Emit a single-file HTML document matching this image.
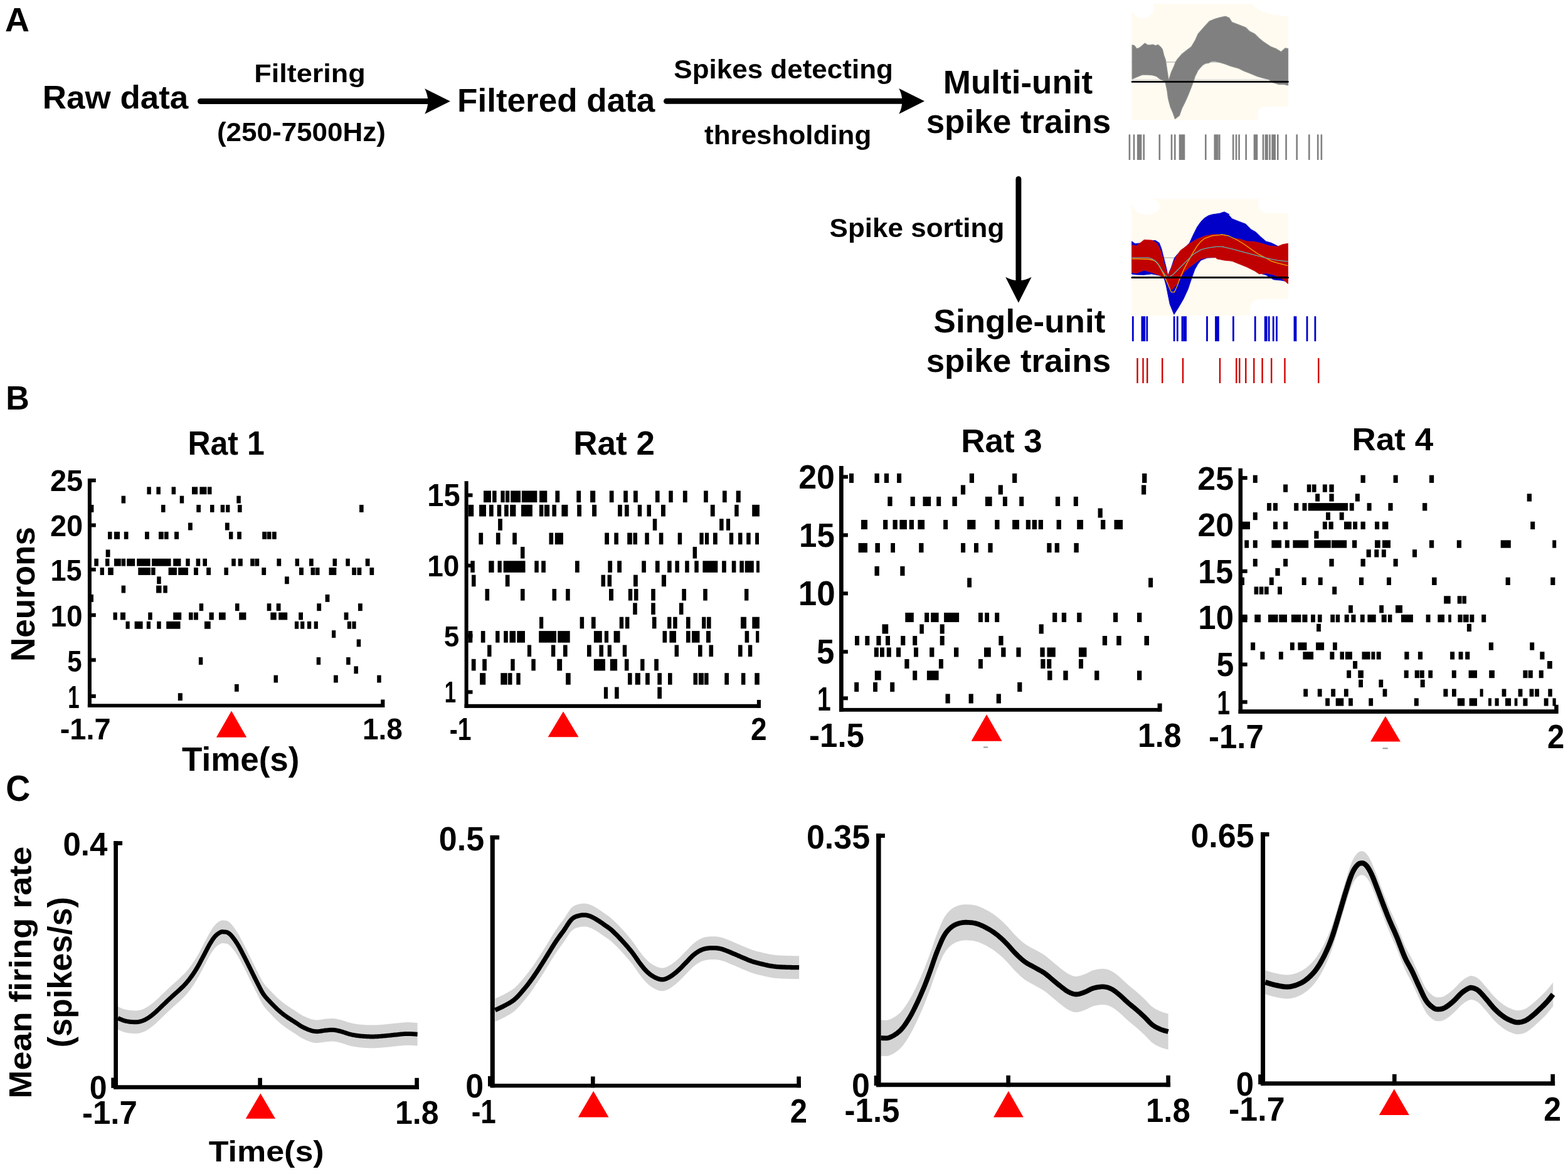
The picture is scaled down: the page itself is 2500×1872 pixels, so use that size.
<!DOCTYPE html>
<html><head><meta charset="utf-8"><title>Figure</title>
<style>html,body{margin:0;padding:0;background:#fff;width:2500px;height:1872px;overflow:hidden}text{font-family:'Liberation Sans',Arial,sans-serif;font-weight:bold}</style>
</head><body><svg xmlns="http://www.w3.org/2000/svg" width="2500" height="1872" viewBox="0 0 2500 1872" style="display:block;font-family:'Liberation Sans',Arial,sans-serif;font-weight:bold"><rect width="2500" height="1872" fill="#fff"/><line x1="319.5" y1="161.5" x2="682.3" y2="161.5" stroke="#000" stroke-width="8.9" stroke-linecap="round"/><path d="M677.2 141.15 L717.9 161.5 L677.2 181.85 Q687.4 161.5 677.2 141.15Z" fill="#000"/><line x1="1062.5" y1="161.3" x2="1438.4" y2="161.3" stroke="#000" stroke-width="8.9" stroke-linecap="round"/><path d="M1433.3 140.95 L1474 161.3 L1433.3 181.65 Q1443.5 161.3 1433.3 140.95Z" fill="#000"/><line x1="1623.9" y1="285.5" x2="1623.9" y2="447.2" stroke="#000" stroke-width="8.9" stroke-linecap="round"/><path d="M1603.15 441.7 L1623.9 482.7 L1644.65 441.7 Q1623.9 452.7 1603.15 441.7Z" fill="#000"/><rect x="1804.5" y="6.2" width="249.5" height="185.3" fill="#FFFBF0"/><ellipse cx="1822" cy="12" rx="18" ry="17" fill="#fff"/><rect x="1804.5" y="6.2" width="17.5" height="13.8" fill="#fff"/><path d="M1996 6.2 H2054 V25.8 Q2025 24 2010 17 Q2000 12 1996 6.2Z" fill="#fff"/><path d="M2054 191.5 H2005 V185 Q2005 170 2020 170 H2054Z" fill="#fff"/><line x1="1804.5" y1="99" x2="2054" y2="99" stroke="#a0a0a0" stroke-width="1"/><line x1="1804.5" y1="127" x2="2054" y2="127" stroke="#c8c8c8" stroke-width="1"/><polygon points="1805.1,71.8 1808.5,72.7 1812.7,77.8 1816.9,76.1 1821.1,72.7 1825.4,68.9 1829.6,71.8 1833.8,71.8 1838,71 1842.3,72.7 1846.5,71.4 1850.7,75.2 1853.3,78.6 1855.8,88.7 1858.3,95.5 1863,126.8 1863.6,127.6 1867.6,114.9 1871.9,105.6 1874.4,98.9 1877.8,93.8 1884.5,86.2 1893,79.4 1899.7,74.4 1905.7,64.2 1910.4,53.8 1920,43 1928.5,33.7 1936.9,30.3 1945.4,27.8 1953.8,26.1 1959.7,28.6 1964,35.4 1975,39.6 1985.9,43.8 1991.9,49.7 2000.3,54 2007.1,60.7 2013,65.8 2025.7,74.2 2034.1,77.6 2042.6,82.7 2049.3,76.8 2053.6,77.6 2053.6,136 2046.8,134.3 2038.3,134.3 2029.9,131.7 2023.1,126.7 2013,124.1 2004.5,121.6 1991.9,116.5 1983.4,113.1 1974.9,108.9 1962.3,105.5 1953.8,102.1 1945.4,99.6 1936.9,97.5 1931,98 1926.8,100.6 1922.6,100.9 1918.3,103.1 1914.1,107.3 1909.9,112.4 1905.7,120.9 1901.4,133.5 1897.2,144.5 1893,154.7 1888.8,164 1884.5,172.4 1880.3,184.3 1873.5,189.5 1870.2,180 1865.9,169.9 1862.6,157.2 1860.9,144.5 1859.2,136.1 1857.5,129.3 1850.7,126.8 1844,121.7 1838,120 1829.6,119.2 1821.1,119.2 1812.7,122.6 1805.1,125.9" fill="#808080" stroke="#8c8c8c" stroke-width="1.2" stroke-linejoin="round"/><line x1="1805" y1="130.4" x2="2053.5" y2="130.4" stroke="#000" stroke-width="2.6" stroke-linecap="round"/><rect x="1799.6" y="214.4" width="2.6" height="40.6" fill="#808080"/><rect x="1806.7" y="214.4" width="2.6" height="40.6" fill="#808080"/><rect x="1812.9" y="214.4" width="7.5" height="40.6" fill="#808080"/><rect x="1822.4" y="214.4" width="2.6" height="40.6" fill="#808080"/><rect x="1847.5" y="214.4" width="2.6" height="40.6" fill="#808080"/><rect x="1866.7" y="214.4" width="2.6" height="40.6" fill="#808080"/><rect x="1872" y="214.4" width="2.6" height="40.6" fill="#808080"/><rect x="1879.7" y="214.4" width="9.6" height="40.6" fill="#808080"/><rect x="1921" y="214.4" width="2.6" height="40.6" fill="#808080"/><rect x="1935.5" y="214.4" width="7.2" height="40.6" fill="#808080"/><rect x="1943" y="214.4" width="2.6" height="40.6" fill="#808080"/><rect x="1964.9" y="214.4" width="2.6" height="40.6" fill="#808080"/><rect x="1969.7" y="214.4" width="2.6" height="40.6" fill="#808080"/><rect x="1974.3" y="214.4" width="2.6" height="40.6" fill="#808080"/><rect x="1985.4" y="214.4" width="2.6" height="40.6" fill="#808080"/><rect x="1998.7" y="214.4" width="6.6" height="40.6" fill="#808080"/><rect x="2012.7" y="214.4" width="2.6" height="40.6" fill="#808080"/><rect x="2016.7" y="214.4" width="5.1" height="40.6" fill="#808080"/><rect x="2023.2" y="214.4" width="2.6" height="40.6" fill="#808080"/><rect x="2027.3" y="214.4" width="6.7" height="40.6" fill="#808080"/><rect x="2036" y="214.4" width="2.6" height="40.6" fill="#808080"/><rect x="2049.3" y="214.4" width="2.6" height="40.6" fill="#808080"/><rect x="2066.4" y="214.4" width="2.6" height="40.6" fill="#808080"/><rect x="2086" y="214.4" width="2.6" height="40.6" fill="#808080"/><rect x="2099.9" y="214.4" width="2.6" height="40.6" fill="#808080"/><rect x="2105.6" y="214.4" width="2.6" height="40.6" fill="#808080"/><rect x="1804.3" y="317.2" width="249.7" height="186.1" fill="#FFFBF0"/><ellipse cx="1828" cy="329" rx="21" ry="13.5" fill="#fff"/><rect x="1804.3" y="317.2" width="23.7" height="11.8" fill="#fff"/><path d="M2006.4 317.2 H2054 V340 H2025 Q2006.4 340 2006.4 325Z" fill="#fff"/><path d="M2054 503.3 H1993 V495 Q1993 476.7 2012 476.7 H2054Z" fill="#fff"/><line x1="1804.3" y1="411" x2="2054" y2="411" stroke="#a0a0a0" stroke-width="1"/><polygon points="1804.59,384.88 1809.66,388.5 1824.15,387.29 1836.23,383.67 1842.27,383.43 1848.31,387.29 1851.93,396.96 1856.76,416.28 1860.39,430.77 1861.84,439.83 1867.63,425.94 1872.46,411.45 1877.29,405.41 1884.54,398.16 1891.79,392.13 1896.62,387.29 1902.66,374.01 1908.7,361.93 1914.73,353.48 1920.77,347.44 1926.81,343.82 1932.85,342 1944.93,340.19 1950.97,338.02 1960.02,342 1952.08,337.78 1958.12,341.4 1964.15,348.65 1976.23,353.48 1985.89,357.1 1994.35,365.56 2002.8,370.39 2010.05,377.63 2018.5,384.88 2026.96,387.29 2036.62,392.13 2045.07,395.75 2053.53,396.96 2053.53,448.89 2042.66,447.08 2030.58,445.87 2018.5,438.62 2006.43,435 2000,429 1988,423 1976,418 1964,414 1952,412 1940,410 1925,411 1914.7,415 1909.9,421.11 1905.07,429.57 1900.24,442.85 1894.2,460.97 1886.96,476.67 1878.5,491.16 1871.86,501.43 1865.22,485.12 1859.18,454.93 1855.56,441.64 1848.31,439.23 1836.23,436.81 1824.15,438.26 1812.08,438.02 1804.59,437.05" fill="#0000C8" stroke="#1010d0" stroke-width="1" stroke-linejoin="round"/><polygon points="1804.59,390.92 1812.08,392.13 1824.15,382.46 1836.23,383.07 1843.48,387.29 1848.31,394.54 1851.93,404.2 1855.56,418.7 1859.18,430.77 1862.2,439.83 1868.84,424.73 1874.88,410.24 1882.13,399.37 1890.58,393.33 1896.62,388.5 1908.7,381.26 1920.77,376.43 1932.85,374.01 1944.93,374.01 1960.02,375.82 1952.08,376.43 1964.15,380.05 1976.23,381.26 1988.31,384.88 2000.39,385.48 2012.46,388.5 2024.54,392.13 2036.62,393.33 2045.07,389.71 2053.53,388.26 2053.53,452.51 2042.66,442.85 2030.58,438.02 2018.5,435.6 2007.63,436.81 2000.39,431.98 1988.31,425.94 1976.23,421.11 1964.15,416.28 1952.08,415.07 1940,412.66 1938.89,410.24 1926.81,410.24 1914.73,412.66 1906.28,418.7 1896.62,425.94 1888.16,433.19 1882.13,442.85 1874.88,454.93 1867.63,462.42 1860.39,450.1 1856.76,441.64 1853.14,440.43 1845.89,438.02 1836.23,434.4 1824.15,430.77 1812.08,435.6 1804.59,434.4" fill="#C00000" stroke="#c81010" stroke-width="1" stroke-linejoin="round"/><polyline points="1804.59,412.66 1830.19,413.26 1839.86,415.07 1845.89,419.9 1850.72,428.36 1855.56,438.02 1860.39,448.89 1865.22,460.97 1867.63,465.8 1872.46,465.8 1877.29,454.93 1882.13,441.64 1886.96,430.77 1891.79,421.11 1896.62,412.66 1902.66,401.79 1908.7,392.13 1914.73,384.88 1920.77,380.05 1932.85,375.82 1944.93,374.61 1948.45,374.01 1958.12,375.82 1970.19,381.26 1982.27,388.5 1994.35,396.96 2006.43,405.41 2018.5,411.45 2026.96,416.28 2036.62,419.3 2053.53,423.53" fill="none" stroke="#F0A800" stroke-width="1.3"/><polyline points="1804.59,410.85 1830.19,410.85 1836.23,412.66 1842.27,416.28 1848.31,423.53 1853.14,431.98 1857.97,439.23 1861.59,441.64 1865.22,441.04 1870.05,438.02 1876.09,431.98 1884.54,423.53 1894.2,413.86 1902.66,405.41 1914.73,398.16 1926.81,395.14 1938.89,393.33 1950.97,393.33 1948.45,393.33 1964.15,396.96 1982.27,401.79 2000.39,406.62 2018.5,411.45 2036.62,415.07 2053.53,416.88" fill="none" stroke="#60B0B0" stroke-width="1.3"/><line x1="1805" y1="442.5" x2="2053.5" y2="442.5" stroke="#000" stroke-width="3" stroke-linecap="round"/><rect x="1804.9" y="504.3" width="2.8" height="39.9" fill="#0000D0"/><rect x="1819.5" y="504.3" width="6.7" height="39.9" fill="#0000D0"/><rect x="1827.4" y="504.3" width="2.8" height="39.9" fill="#0000D0"/><rect x="1870.7" y="504.3" width="2.8" height="39.9" fill="#0000D0"/><rect x="1875.9" y="504.3" width="2.8" height="39.9" fill="#0000D0"/><rect x="1883.6" y="504.3" width="2.8" height="39.9" fill="#0000D0"/><rect x="1886.2" y="504.3" width="5.8" height="39.9" fill="#0000D0"/><rect x="1923.1" y="504.3" width="2.8" height="39.9" fill="#0000D0"/><rect x="1937.1" y="504.3" width="6.7" height="39.9" fill="#0000D0"/><rect x="1965" y="504.3" width="2.8" height="39.9" fill="#0000D0"/><rect x="1999.8" y="504.3" width="2.8" height="39.9" fill="#0000D0"/><rect x="2015.8" y="504.3" width="4.8" height="39.9" fill="#0000D0"/><rect x="2021.8" y="504.3" width="2.8" height="39.9" fill="#0000D0"/><rect x="2028.8" y="504.3" width="2.8" height="39.9" fill="#0000D0"/><rect x="2034.1" y="504.3" width="2.8" height="39.9" fill="#0000D0"/><rect x="2062.6" y="504.3" width="4.8" height="39.9" fill="#0000D0"/><rect x="2082.6" y="504.3" width="2.8" height="39.9" fill="#0000D0"/><rect x="2095.5" y="504.3" width="2.8" height="39.9" fill="#0000D0"/><rect x="1812.3" y="571" width="2.4" height="40" fill="#D00000"/><rect x="1821.3" y="571" width="2.4" height="40" fill="#D00000"/><rect x="1828" y="571" width="2.4" height="40" fill="#D00000"/><rect x="1852" y="571" width="2.4" height="40" fill="#D00000"/><rect x="1884.8" y="571" width="2.4" height="40" fill="#D00000"/><rect x="1943.8" y="571" width="2.4" height="40" fill="#D00000"/><rect x="1970.1" y="571" width="2.4" height="40" fill="#D00000"/><rect x="1975.1" y="571" width="2.4" height="40" fill="#D00000"/><rect x="1985.1" y="571" width="2.4" height="40" fill="#D00000"/><rect x="1998.1" y="571" width="2.4" height="40" fill="#D00000"/><rect x="2011.4" y="571" width="2.4" height="40" fill="#D00000"/><rect x="2026" y="571" width="2.4" height="40" fill="#D00000"/><rect x="2047.3" y="571" width="2.4" height="40" fill="#D00000"/><rect x="2101.1" y="571" width="2.4" height="40" fill="#D00000"/><rect x="234.4" y="776.35" width="6.4" height="11.9" fill="#000"/><rect x="249.4" y="776.35" width="6.5" height="11.9" fill="#000"/><rect x="273.6" y="776.35" width="6.5" height="11.9" fill="#000"/><rect x="306" y="776.35" width="9.1" height="11.9" fill="#000"/><rect x="318.4" y="776.35" width="11.1" height="11.9" fill="#000"/><rect x="331" y="776.35" width="6.5" height="11.9" fill="#000"/><rect x="193.6" y="790.65" width="6.5" height="11.9" fill="#000"/><rect x="286.7" y="790.65" width="6.5" height="11.9" fill="#000"/><rect x="377.3" y="790.65" width="6.5" height="11.9" fill="#000"/><rect x="143" y="804.95" width="6.4" height="11.9" fill="#000"/><rect x="257" y="804.95" width="6.5" height="11.9" fill="#000"/><rect x="313.3" y="804.95" width="6.7" height="11.9" fill="#000"/><rect x="335" y="804.95" width="6.5" height="11.9" fill="#000"/><rect x="351.7" y="804.95" width="6.5" height="11.9" fill="#000"/><rect x="360.1" y="804.95" width="6.3" height="11.9" fill="#000"/><rect x="379" y="804.95" width="6.6" height="11.9" fill="#000"/><rect x="573" y="804.95" width="6.6" height="11.9" fill="#000"/><rect x="300" y="833.55" width="6.8" height="11.9" fill="#000"/><rect x="358.9" y="833.55" width="6.8" height="11.9" fill="#000"/><rect x="172" y="847.85" width="6.5" height="11.9" fill="#000"/><rect x="182" y="847.85" width="9" height="11.9" fill="#000"/><rect x="197.8" y="847.85" width="6.7" height="11.9" fill="#000"/><rect x="231" y="847.85" width="6.8" height="11.9" fill="#000"/><rect x="253" y="847.85" width="7.8" height="11.9" fill="#000"/><rect x="262" y="847.85" width="6.6" height="11.9" fill="#000"/><rect x="278.1" y="847.85" width="6.9" height="11.9" fill="#000"/><rect x="365" y="847.85" width="6.4" height="11.9" fill="#000"/><rect x="378.2" y="847.85" width="6.7" height="11.9" fill="#000"/><rect x="418.2" y="847.85" width="6.8" height="11.9" fill="#000"/><rect x="425.7" y="847.85" width="6.8" height="11.9" fill="#000"/><rect x="434" y="847.85" width="6.7" height="11.9" fill="#000"/><rect x="168.7" y="876.45" width="6.8" height="11.9" fill="#000"/><rect x="150.3" y="890.75" width="6.6" height="11.9" fill="#000"/><rect x="168" y="890.75" width="6.4" height="11.9" fill="#000"/><rect x="182" y="890.75" width="10.8" height="11.9" fill="#000"/><rect x="193.6" y="890.75" width="6.5" height="11.9" fill="#000"/><rect x="202.2" y="890.75" width="13" height="11.9" fill="#000"/><rect x="218.2" y="890.75" width="21.4" height="11.9" fill="#000"/><rect x="242" y="890.75" width="30.5" height="11.9" fill="#000"/><rect x="276.2" y="890.75" width="12.2" height="11.9" fill="#000"/><rect x="296.3" y="890.75" width="6.4" height="11.9" fill="#000"/><rect x="312.6" y="890.75" width="6.6" height="11.9" fill="#000"/><rect x="323.4" y="890.75" width="6.6" height="11.9" fill="#000"/><rect x="369.2" y="890.75" width="6.6" height="11.9" fill="#000"/><rect x="379.7" y="890.75" width="7.1" height="11.9" fill="#000"/><rect x="399.2" y="890.75" width="6.5" height="11.9" fill="#000"/><rect x="406.4" y="890.75" width="6.8" height="11.9" fill="#000"/><rect x="441.4" y="890.75" width="6.8" height="11.9" fill="#000"/><rect x="470.6" y="890.75" width="6.4" height="11.9" fill="#000"/><rect x="493" y="890.75" width="6.7" height="11.9" fill="#000"/><rect x="530.5" y="890.75" width="6.5" height="11.9" fill="#000"/><rect x="551.3" y="890.75" width="6.5" height="11.9" fill="#000"/><rect x="582.7" y="890.75" width="6.8" height="11.9" fill="#000"/><rect x="159.6" y="905.05" width="6.4" height="11.9" fill="#000"/><rect x="172.2" y="905.05" width="8.6" height="11.9" fill="#000"/><rect x="220.3" y="905.05" width="19.7" height="11.9" fill="#000"/><rect x="241.1" y="905.05" width="6.5" height="11.9" fill="#000"/><rect x="268.6" y="905.05" width="13.3" height="11.9" fill="#000"/><rect x="284.2" y="905.05" width="15.8" height="11.9" fill="#000"/><rect x="309" y="905.05" width="6.9" height="11.9" fill="#000"/><rect x="329.2" y="905.05" width="6.8" height="11.9" fill="#000"/><rect x="357.4" y="905.05" width="6.5" height="11.9" fill="#000"/><rect x="417.3" y="905.05" width="6.8" height="11.9" fill="#000"/><rect x="477" y="905.05" width="6.9" height="11.9" fill="#000"/><rect x="495.5" y="905.05" width="6.8" height="11.9" fill="#000"/><rect x="503" y="905.05" width="6.5" height="11.9" fill="#000"/><rect x="524.5" y="905.05" width="11.8" height="11.9" fill="#000"/><rect x="561.2" y="905.05" width="6.8" height="11.9" fill="#000"/><rect x="569.5" y="905.05" width="6.8" height="11.9" fill="#000"/><rect x="589.4" y="905.05" width="6.8" height="11.9" fill="#000"/><rect x="250.2" y="919.35" width="6.5" height="11.9" fill="#000"/><rect x="454" y="919.35" width="6.8" height="11.9" fill="#000"/><rect x="193.6" y="933.65" width="6.5" height="11.9" fill="#000"/><rect x="249.1" y="933.65" width="8.4" height="11.9" fill="#000"/><rect x="260.3" y="933.65" width="6.5" height="11.9" fill="#000"/><rect x="143" y="947.95" width="6" height="11.9" fill="#000"/><rect x="518.6" y="947.95" width="6.8" height="11.9" fill="#000"/><rect x="317.7" y="962.25" width="6.5" height="11.9" fill="#000"/><rect x="375" y="962.25" width="6.5" height="11.9" fill="#000"/><rect x="425.7" y="962.25" width="6.7" height="11.9" fill="#000"/><rect x="440.7" y="962.25" width="6.8" height="11.9" fill="#000"/><rect x="505.3" y="962.25" width="6.8" height="11.9" fill="#000"/><rect x="571" y="962.25" width="6.8" height="11.9" fill="#000"/><rect x="180.5" y="976.55" width="6.3" height="11.9" fill="#000"/><rect x="192" y="976.55" width="8" height="11.9" fill="#000"/><rect x="236.2" y="976.55" width="6.5" height="11.9" fill="#000"/><rect x="276.2" y="976.55" width="13" height="11.9" fill="#000"/><rect x="301" y="976.55" width="6.6" height="11.9" fill="#000"/><rect x="309" y="976.55" width="6.9" height="11.9" fill="#000"/><rect x="333.5" y="976.55" width="7.3" height="11.9" fill="#000"/><rect x="349" y="976.55" width="10.7" height="11.9" fill="#000"/><rect x="381.2" y="976.55" width="11.2" height="11.9" fill="#000"/><rect x="431.3" y="976.55" width="9.4" height="11.9" fill="#000"/><rect x="444.2" y="976.55" width="14" height="11.9" fill="#000"/><rect x="476.2" y="976.55" width="6.8" height="11.9" fill="#000"/><rect x="548.6" y="976.55" width="6.8" height="11.9" fill="#000"/><rect x="200.5" y="990.85" width="6.2" height="11.9" fill="#000"/><rect x="214.6" y="990.85" width="13" height="11.9" fill="#000"/><rect x="233.8" y="990.85" width="6.2" height="11.9" fill="#000"/><rect x="250.2" y="990.85" width="6.5" height="11.9" fill="#000"/><rect x="265.2" y="990.85" width="22.3" height="11.9" fill="#000"/><rect x="326" y="990.85" width="9.7" height="11.9" fill="#000"/><rect x="469.9" y="990.85" width="6.2" height="11.9" fill="#000"/><rect x="479.1" y="990.85" width="6.2" height="11.9" fill="#000"/><rect x="489.9" y="990.85" width="6.3" height="11.9" fill="#000"/><rect x="500.7" y="990.85" width="6.2" height="11.9" fill="#000"/><rect x="553.8" y="990.85" width="6.2" height="11.9" fill="#000"/><rect x="561.4" y="990.85" width="6.2" height="11.9" fill="#000"/><rect x="529" y="1005.15" width="6.2" height="11.9" fill="#000"/><rect x="568.7" y="1019.45" width="6.5" height="11.9" fill="#000"/><rect x="316.9" y="1048.05" width="6.4" height="11.9" fill="#000"/><rect x="504.7" y="1048.05" width="6.4" height="11.9" fill="#000"/><rect x="552.1" y="1048.05" width="6.5" height="11.9" fill="#000"/><rect x="564.4" y="1062.35" width="6.6" height="11.9" fill="#000"/><rect x="436.5" y="1076.65" width="6.5" height="11.9" fill="#000"/><rect x="532" y="1076.65" width="6.8" height="11.9" fill="#000"/><rect x="601.2" y="1076.65" width="6.5" height="11.9" fill="#000"/><rect x="374" y="1090.95" width="6.7" height="11.9" fill="#000"/><rect x="283.8" y="1105.25" width="7.1" height="11.9" fill="#000"/><rect x="771" y="782.5" width="11.9" height="18.6" fill="#000"/><rect x="785.1" y="782.5" width="6.5" height="18.6" fill="#000"/><rect x="798.4" y="782.5" width="6.3" height="18.6" fill="#000"/><rect x="806" y="782.5" width="6.3" height="18.6" fill="#000"/><rect x="814.2" y="782.5" width="15.8" height="18.6" fill="#000"/><rect x="831.8" y="782.5" width="24.5" height="18.6" fill="#000"/><rect x="860.1" y="782.5" width="12.2" height="18.6" fill="#000"/><rect x="885.4" y="782.5" width="6.8" height="18.6" fill="#000"/><rect x="919.3" y="782.5" width="6.8" height="18.6" fill="#000"/><rect x="941.1" y="782.5" width="8.1" height="18.6" fill="#000"/><rect x="971.8" y="782.5" width="6.7" height="18.6" fill="#000"/><rect x="994.2" y="782.5" width="6.7" height="18.6" fill="#000"/><rect x="1010" y="782.5" width="6.8" height="18.6" fill="#000"/><rect x="1044.9" y="782.5" width="6.7" height="18.6" fill="#000"/><rect x="1066.3" y="782.5" width="6.5" height="18.6" fill="#000"/><rect x="1088.9" y="782.5" width="6.8" height="18.6" fill="#000"/><rect x="1122.1" y="782.5" width="6.7" height="18.6" fill="#000"/><rect x="1152" y="782.5" width="6.7" height="18.6" fill="#000"/><rect x="1173.7" y="782.5" width="7.1" height="18.6" fill="#000"/><rect x="746.7" y="804.86" width="8.5" height="18.6" fill="#000"/><rect x="764.1" y="804.86" width="10.9" height="18.6" fill="#000"/><rect x="780" y="804.86" width="6.7" height="18.6" fill="#000"/><rect x="792.7" y="804.86" width="6.5" height="18.6" fill="#000"/><rect x="804.1" y="804.86" width="6.6" height="18.6" fill="#000"/><rect x="813.2" y="804.86" width="9.2" height="18.6" fill="#000"/><rect x="831" y="804.86" width="17.9" height="18.6" fill="#000"/><rect x="859.9" y="804.86" width="6.5" height="18.6" fill="#000"/><rect x="868" y="804.86" width="8.1" height="18.6" fill="#000"/><rect x="880.4" y="804.86" width="6.6" height="18.6" fill="#000"/><rect x="895.4" y="804.86" width="10" height="18.6" fill="#000"/><rect x="920.2" y="804.86" width="6.8" height="18.6" fill="#000"/><rect x="944.1" y="804.86" width="7" height="18.6" fill="#000"/><rect x="985.1" y="804.86" width="6.7" height="18.6" fill="#000"/><rect x="996" y="804.86" width="6.7" height="18.6" fill="#000"/><rect x="1016.8" y="804.86" width="6.4" height="18.6" fill="#000"/><rect x="1031.5" y="804.86" width="6.5" height="18.6" fill="#000"/><rect x="1054" y="804.86" width="6.9" height="18.6" fill="#000"/><rect x="1132.8" y="804.86" width="6.9" height="18.6" fill="#000"/><rect x="1171.2" y="804.86" width="6.5" height="18.6" fill="#000"/><rect x="1199.2" y="804.86" width="11.7" height="18.6" fill="#000"/><rect x="794.1" y="827.22" width="6.8" height="18.6" fill="#000"/><rect x="1040.8" y="827.22" width="6.5" height="18.6" fill="#000"/><rect x="1147.1" y="827.22" width="6.5" height="18.6" fill="#000"/><rect x="1158" y="827.22" width="6.1" height="18.6" fill="#000"/><rect x="763.4" y="849.58" width="6.7" height="18.6" fill="#000"/><rect x="790.9" y="849.58" width="6.7" height="18.6" fill="#000"/><rect x="817.2" y="849.58" width="6.7" height="18.6" fill="#000"/><rect x="875.5" y="849.58" width="6.6" height="18.6" fill="#000"/><rect x="884.8" y="849.58" width="13.1" height="18.6" fill="#000"/><rect x="964.2" y="849.58" width="6.8" height="18.6" fill="#000"/><rect x="979.3" y="849.58" width="6.6" height="18.6" fill="#000"/><rect x="1000.2" y="849.58" width="7.6" height="18.6" fill="#000"/><rect x="1009.5" y="849.58" width="6.5" height="18.6" fill="#000"/><rect x="1028.3" y="849.58" width="6.5" height="18.6" fill="#000"/><rect x="1050.8" y="849.58" width="6.6" height="18.6" fill="#000"/><rect x="1080.7" y="849.58" width="6.5" height="18.6" fill="#000"/><rect x="1115.4" y="849.58" width="6.3" height="18.6" fill="#000"/><rect x="1123.9" y="849.58" width="6.3" height="18.6" fill="#000"/><rect x="1137" y="849.58" width="6.8" height="18.6" fill="#000"/><rect x="1162.8" y="849.58" width="6.4" height="18.6" fill="#000"/><rect x="1177" y="849.58" width="6.5" height="18.6" fill="#000"/><rect x="1190.2" y="849.58" width="6.5" height="18.6" fill="#000"/><rect x="1204.1" y="849.58" width="5.9" height="18.6" fill="#000"/><rect x="830" y="871.94" width="6.5" height="18.6" fill="#000"/><rect x="1104.6" y="871.94" width="6.5" height="18.6" fill="#000"/><rect x="750.3" y="894.3" width="6.5" height="18.6" fill="#000"/><rect x="779.3" y="894.3" width="8.3" height="18.6" fill="#000"/><rect x="793.5" y="894.3" width="6.3" height="18.6" fill="#000"/><rect x="802.7" y="894.3" width="34.8" height="18.6" fill="#000"/><rect x="852.3" y="894.3" width="6.5" height="18.6" fill="#000"/><rect x="863.2" y="894.3" width="6.7" height="18.6" fill="#000"/><rect x="917" y="894.3" width="6.7" height="18.6" fill="#000"/><rect x="969.3" y="894.3" width="6.8" height="18.6" fill="#000"/><rect x="984.2" y="894.3" width="6.8" height="18.6" fill="#000"/><rect x="1023.2" y="894.3" width="6.7" height="18.6" fill="#000"/><rect x="1044.9" y="894.3" width="6.7" height="18.6" fill="#000"/><rect x="1064.1" y="894.3" width="6.6" height="18.6" fill="#000"/><rect x="1076.4" y="894.3" width="6.5" height="18.6" fill="#000"/><rect x="1092.2" y="894.3" width="6.5" height="18.6" fill="#000"/><rect x="1107.3" y="894.3" width="6.5" height="18.6" fill="#000"/><rect x="1120.4" y="894.3" width="23.9" height="18.6" fill="#000"/><rect x="1151.1" y="894.3" width="6.7" height="18.6" fill="#000"/><rect x="1166.8" y="894.3" width="6.6" height="18.6" fill="#000"/><rect x="1179.3" y="894.3" width="6.6" height="18.6" fill="#000"/><rect x="1187.7" y="894.3" width="14.1" height="18.6" fill="#000"/><rect x="1206" y="894.3" width="4.9" height="18.6" fill="#000"/><rect x="752" y="916.66" width="6.5" height="18.6" fill="#000"/><rect x="805.8" y="916.66" width="6.7" height="18.6" fill="#000"/><rect x="958.5" y="916.66" width="6.5" height="18.6" fill="#000"/><rect x="968.6" y="916.66" width="6.5" height="18.6" fill="#000"/><rect x="1010" y="916.66" width="6.8" height="18.6" fill="#000"/><rect x="1054.9" y="916.66" width="7.1" height="18.6" fill="#000"/><rect x="773.5" y="939.02" width="6.6" height="18.6" fill="#000"/><rect x="830" y="939.02" width="6.6" height="18.6" fill="#000"/><rect x="880.5" y="939.02" width="6.6" height="18.6" fill="#000"/><rect x="902.1" y="939.02" width="6.6" height="18.6" fill="#000"/><rect x="971" y="939.02" width="7" height="18.6" fill="#000"/><rect x="1001.8" y="939.02" width="6.4" height="18.6" fill="#000"/><rect x="1011" y="939.02" width="6.5" height="18.6" fill="#000"/><rect x="1038.2" y="939.02" width="6.6" height="18.6" fill="#000"/><rect x="1087.3" y="939.02" width="6.7" height="18.6" fill="#000"/><rect x="1121.2" y="939.02" width="6.6" height="18.6" fill="#000"/><rect x="1187" y="939.02" width="6.4" height="18.6" fill="#000"/><rect x="1009.2" y="961.38" width="6.6" height="18.6" fill="#000"/><rect x="1038.2" y="961.38" width="6.6" height="18.6" fill="#000"/><rect x="1082.9" y="961.38" width="6.6" height="18.6" fill="#000"/><rect x="860" y="983.74" width="6.2" height="18.6" fill="#000"/><rect x="924.6" y="983.74" width="6.5" height="18.6" fill="#000"/><rect x="942.9" y="983.74" width="6.7" height="18.6" fill="#000"/><rect x="987.7" y="983.74" width="6.4" height="18.6" fill="#000"/><rect x="997" y="983.74" width="6.4" height="18.6" fill="#000"/><rect x="1039.9" y="983.74" width="6.6" height="18.6" fill="#000"/><rect x="1064.1" y="983.74" width="6.3" height="18.6" fill="#000"/><rect x="1073.2" y="983.74" width="6.5" height="18.6" fill="#000"/><rect x="1094" y="983.74" width="6.6" height="18.6" fill="#000"/><rect x="1119.1" y="983.74" width="6.3" height="18.6" fill="#000"/><rect x="1127" y="983.74" width="6.6" height="18.6" fill="#000"/><rect x="1181" y="983.74" width="9" height="18.6" fill="#000"/><rect x="1199.3" y="983.74" width="11.6" height="18.6" fill="#000"/><rect x="746.5" y="1006.1" width="6.8" height="18.6" fill="#000"/><rect x="766.8" y="1006.1" width="6.7" height="18.6" fill="#000"/><rect x="790.1" y="1006.1" width="6.4" height="18.6" fill="#000"/><rect x="803.2" y="1006.1" width="6.6" height="18.6" fill="#000"/><rect x="812.5" y="1006.1" width="9.6" height="18.6" fill="#000"/><rect x="824.3" y="1006.1" width="12.7" height="18.6" fill="#000"/><rect x="859.2" y="1006.1" width="27.8" height="18.6" fill="#000"/><rect x="889.2" y="1006.1" width="19.5" height="18.6" fill="#000"/><rect x="946.9" y="1006.1" width="12.9" height="18.6" fill="#000"/><rect x="963.8" y="1006.1" width="6.3" height="18.6" fill="#000"/><rect x="978.6" y="1006.1" width="9.9" height="18.6" fill="#000"/><rect x="1056.5" y="1006.1" width="6.7" height="18.6" fill="#000"/><rect x="1067.4" y="1006.1" width="10.6" height="18.6" fill="#000"/><rect x="1094" y="1006.1" width="6.6" height="18.6" fill="#000"/><rect x="1103" y="1006.1" width="12.5" height="18.6" fill="#000"/><rect x="1126" y="1006.1" width="6.9" height="18.6" fill="#000"/><rect x="1187.6" y="1006.1" width="6.6" height="18.6" fill="#000"/><rect x="1205.1" y="1006.1" width="5.2" height="18.6" fill="#000"/><rect x="777.1" y="1028.46" width="6.4" height="18.6" fill="#000"/><rect x="840.9" y="1028.46" width="6.2" height="18.6" fill="#000"/><rect x="878.9" y="1028.46" width="6.4" height="18.6" fill="#000"/><rect x="898" y="1028.46" width="6.6" height="18.6" fill="#000"/><rect x="936" y="1028.46" width="6.7" height="18.6" fill="#000"/><rect x="955.4" y="1028.46" width="6.6" height="18.6" fill="#000"/><rect x="968.7" y="1028.46" width="6.2" height="18.6" fill="#000"/><rect x="992.8" y="1028.46" width="6.4" height="18.6" fill="#000"/><rect x="1075.6" y="1028.46" width="6.5" height="18.6" fill="#000"/><rect x="1113" y="1028.46" width="6.6" height="18.6" fill="#000"/><rect x="1130.5" y="1028.46" width="6.6" height="18.6" fill="#000"/><rect x="1177" y="1028.46" width="6.6" height="18.6" fill="#000"/><rect x="1192.8" y="1028.46" width="6.5" height="18.6" fill="#000"/><rect x="751.8" y="1050.82" width="6.7" height="18.6" fill="#000"/><rect x="769.2" y="1050.82" width="6.7" height="18.6" fill="#000"/><rect x="814.3" y="1050.82" width="6.4" height="18.6" fill="#000"/><rect x="847.3" y="1050.82" width="6.5" height="18.6" fill="#000"/><rect x="888.2" y="1050.82" width="7.9" height="18.6" fill="#000"/><rect x="946.9" y="1050.82" width="18" height="18.6" fill="#000"/><rect x="972.8" y="1050.82" width="11.3" height="18.6" fill="#000"/><rect x="995.9" y="1050.82" width="6.6" height="18.6" fill="#000"/><rect x="1021.1" y="1050.82" width="6.4" height="18.6" fill="#000"/><rect x="1043.2" y="1050.82" width="6.7" height="18.6" fill="#000"/><rect x="765.1" y="1073.18" width="9.1" height="18.6" fill="#000"/><rect x="798.3" y="1073.18" width="10.5" height="18.6" fill="#000"/><rect x="810" y="1073.18" width="6.5" height="18.6" fill="#000"/><rect x="823.3" y="1073.18" width="6.4" height="18.6" fill="#000"/><rect x="902.1" y="1073.18" width="7.6" height="18.6" fill="#000"/><rect x="1001" y="1073.18" width="6.6" height="18.6" fill="#000"/><rect x="1012.7" y="1073.18" width="8.2" height="18.6" fill="#000"/><rect x="1029.1" y="1073.18" width="6.7" height="18.6" fill="#000"/><rect x="1048.3" y="1073.18" width="6.7" height="18.6" fill="#000"/><rect x="1065" y="1073.18" width="6.6" height="18.6" fill="#000"/><rect x="1105.5" y="1073.18" width="6.6" height="18.6" fill="#000"/><rect x="1113.9" y="1073.18" width="8.1" height="18.6" fill="#000"/><rect x="1123" y="1073.18" width="6.6" height="18.6" fill="#000"/><rect x="1155.3" y="1073.18" width="6.7" height="18.6" fill="#000"/><rect x="1181.9" y="1073.18" width="6.5" height="18.6" fill="#000"/><rect x="1203.3" y="1073.18" width="7.5" height="18.6" fill="#000"/><rect x="962.9" y="1095.54" width="6.2" height="18.6" fill="#000"/><rect x="980.1" y="1095.54" width="6.6" height="18.6" fill="#000"/><rect x="1048.3" y="1095.54" width="6.7" height="18.6" fill="#000"/><rect x="1354" y="754.95" width="7" height="15.1" fill="#000"/><rect x="1394.5" y="754.95" width="7.3" height="15.1" fill="#000"/><rect x="1409.9" y="754.95" width="7.2" height="15.1" fill="#000"/><rect x="1430.1" y="754.95" width="7" height="15.1" fill="#000"/><rect x="1545.8" y="754.95" width="7.2" height="15.1" fill="#000"/><rect x="1614.1" y="754.95" width="7.2" height="15.1" fill="#000"/><rect x="1821.1" y="754.95" width="7.3" height="15.1" fill="#000"/><rect x="1531.9" y="773.45" width="7.2" height="15.1" fill="#000"/><rect x="1591.7" y="773.45" width="7.2" height="15.1" fill="#000"/><rect x="1820" y="773.45" width="7.2" height="15.1" fill="#000"/><rect x="1415.3" y="791.95" width="7.3" height="15.1" fill="#000"/><rect x="1451.6" y="791.95" width="7.2" height="15.1" fill="#000"/><rect x="1471.5" y="791.95" width="12.7" height="15.1" fill="#000"/><rect x="1493.2" y="791.95" width="7" height="15.1" fill="#000"/><rect x="1518.4" y="791.95" width="7.4" height="15.1" fill="#000"/><rect x="1570.9" y="791.95" width="10.7" height="15.1" fill="#000"/><rect x="1598.9" y="791.95" width="7" height="15.1" fill="#000"/><rect x="1625.2" y="791.95" width="7" height="15.1" fill="#000"/><rect x="1682.9" y="791.95" width="7.2" height="15.1" fill="#000"/><rect x="1711.8" y="791.95" width="7" height="15.1" fill="#000"/><rect x="1750.6" y="810.45" width="7.2" height="15.1" fill="#000"/><rect x="1373" y="828.95" width="10" height="15.1" fill="#000"/><rect x="1408.1" y="828.95" width="7.2" height="15.1" fill="#000"/><rect x="1423.5" y="828.95" width="7.3" height="15.1" fill="#000"/><rect x="1434.4" y="828.95" width="11.5" height="15.1" fill="#000"/><rect x="1449.7" y="828.95" width="7.3" height="15.1" fill="#000"/><rect x="1463.4" y="828.95" width="10.7" height="15.1" fill="#000"/><rect x="1504.1" y="828.95" width="7" height="15.1" fill="#000"/><rect x="1542.2" y="828.95" width="13.2" height="15.1" fill="#000"/><rect x="1586.2" y="828.95" width="7.3" height="15.1" fill="#000"/><rect x="1614.1" y="828.95" width="10.9" height="15.1" fill="#000"/><rect x="1635.8" y="828.95" width="7.2" height="15.1" fill="#000"/><rect x="1645.7" y="828.95" width="7.3" height="15.1" fill="#000"/><rect x="1655.8" y="828.95" width="7.2" height="15.1" fill="#000"/><rect x="1684.6" y="828.95" width="7.3" height="15.1" fill="#000"/><rect x="1717.2" y="828.95" width="9.8" height="15.1" fill="#000"/><rect x="1755" y="828.95" width="7.3" height="15.1" fill="#000"/><rect x="1776.5" y="828.95" width="13.6" height="15.1" fill="#000"/><rect x="1368.6" y="865.95" width="14.4" height="15.1" fill="#000"/><rect x="1395.4" y="865.95" width="7.5" height="15.1" fill="#000"/><rect x="1420.2" y="865.95" width="6.8" height="15.1" fill="#000"/><rect x="1465.2" y="865.95" width="7.3" height="15.1" fill="#000"/><rect x="1532.1" y="865.95" width="7" height="15.1" fill="#000"/><rect x="1553" y="865.95" width="7" height="15.1" fill="#000"/><rect x="1575.4" y="865.95" width="7.2" height="15.1" fill="#000"/><rect x="1669.3" y="865.95" width="7.2" height="15.1" fill="#000"/><rect x="1681.7" y="865.95" width="7.3" height="15.1" fill="#000"/><rect x="1712.4" y="865.95" width="7.4" height="15.1" fill="#000"/><rect x="1394.5" y="902.95" width="7.3" height="15.1" fill="#000"/><rect x="1435.3" y="902.95" width="7.2" height="15.1" fill="#000"/><rect x="1542.2" y="921.45" width="6.8" height="15.1" fill="#000"/><rect x="1831.1" y="921.45" width="7" height="15.1" fill="#000"/><rect x="1443.3" y="976.95" width="13.5" height="15.1" fill="#000"/><rect x="1474.1" y="976.95" width="7.1" height="15.1" fill="#000"/><rect x="1484.2" y="976.95" width="12.4" height="15.1" fill="#000"/><rect x="1505.1" y="976.95" width="24" height="15.1" fill="#000"/><rect x="1560" y="976.95" width="6.9" height="15.1" fill="#000"/><rect x="1570.2" y="976.95" width="6.8" height="15.1" fill="#000"/><rect x="1586.2" y="976.95" width="7" height="15.1" fill="#000"/><rect x="1678.1" y="976.95" width="7.2" height="15.1" fill="#000"/><rect x="1692.8" y="976.95" width="7.3" height="15.1" fill="#000"/><rect x="1717.2" y="976.95" width="7.3" height="15.1" fill="#000"/><rect x="1775" y="976.95" width="7.2" height="15.1" fill="#000"/><rect x="1813" y="976.95" width="7.3" height="15.1" fill="#000"/><rect x="1406.5" y="995.45" width="9.7" height="15.1" fill="#000"/><rect x="1466.3" y="995.45" width="6.6" height="15.1" fill="#000"/><rect x="1498.7" y="995.45" width="7" height="15.1" fill="#000"/><rect x="1656.6" y="995.45" width="7.2" height="15.1" fill="#000"/><rect x="1363" y="1013.95" width="7" height="15.1" fill="#000"/><rect x="1379.3" y="1013.95" width="7" height="15.1" fill="#000"/><rect x="1397.4" y="1013.95" width="7.1" height="15.1" fill="#000"/><rect x="1412" y="1013.95" width="7" height="15.1" fill="#000"/><rect x="1436.2" y="1013.95" width="7.1" height="15.1" fill="#000"/><rect x="1455.2" y="1013.95" width="7" height="15.1" fill="#000"/><rect x="1498.7" y="1013.95" width="7" height="15.1" fill="#000"/><rect x="1592.3" y="1013.95" width="7.3" height="15.1" fill="#000"/><rect x="1757.8" y="1013.95" width="7.3" height="15.1" fill="#000"/><rect x="1780.2" y="1013.95" width="7.5" height="15.1" fill="#000"/><rect x="1824.5" y="1013.95" width="7.5" height="15.1" fill="#000"/><rect x="1393.8" y="1032.45" width="7" height="15.1" fill="#000"/><rect x="1403" y="1032.45" width="6.9" height="15.1" fill="#000"/><rect x="1413.8" y="1032.45" width="7" height="15.1" fill="#000"/><rect x="1429" y="1032.45" width="7.1" height="15.1" fill="#000"/><rect x="1457" y="1032.45" width="7" height="15.1" fill="#000"/><rect x="1482.1" y="1032.45" width="7.3" height="15.1" fill="#000"/><rect x="1521" y="1032.45" width="7.3" height="15.1" fill="#000"/><rect x="1569" y="1032.45" width="10.8" height="15.1" fill="#000"/><rect x="1596.2" y="1032.45" width="7.3" height="15.1" fill="#000"/><rect x="1620.4" y="1032.45" width="7.2" height="15.1" fill="#000"/><rect x="1658.4" y="1032.45" width="7.3" height="15.1" fill="#000"/><rect x="1669.5" y="1032.45" width="13.3" height="15.1" fill="#000"/><rect x="1720" y="1032.45" width="12.5" height="15.1" fill="#000"/><rect x="1442.3" y="1050.95" width="7.2" height="15.1" fill="#000"/><rect x="1496.9" y="1050.95" width="7" height="15.1" fill="#000"/><rect x="1560" y="1050.95" width="6.9" height="15.1" fill="#000"/><rect x="1659.3" y="1050.95" width="7.2" height="15.1" fill="#000"/><rect x="1669.3" y="1050.95" width="7" height="15.1" fill="#000"/><rect x="1720" y="1050.95" width="7" height="15.1" fill="#000"/><rect x="1394.8" y="1069.45" width="9.9" height="15.1" fill="#000"/><rect x="1455.2" y="1069.45" width="7" height="15.1" fill="#000"/><rect x="1477.9" y="1069.45" width="18.7" height="15.1" fill="#000"/><rect x="1670.1" y="1069.45" width="7.4" height="15.1" fill="#000"/><rect x="1695.3" y="1069.45" width="7.4" height="15.1" fill="#000"/><rect x="1745.1" y="1069.45" width="7.3" height="15.1" fill="#000"/><rect x="1813" y="1069.45" width="7.3" height="15.1" fill="#000"/><rect x="1362.2" y="1087.95" width="7" height="15.1" fill="#000"/><rect x="1392.1" y="1087.95" width="6.9" height="15.1" fill="#000"/><rect x="1419.2" y="1087.95" width="7" height="15.1" fill="#000"/><rect x="1622.2" y="1087.95" width="7.2" height="15.1" fill="#000"/><rect x="1507.5" y="1106.45" width="7.2" height="15.1" fill="#000"/><rect x="1544.6" y="1106.45" width="7.2" height="15.1" fill="#000"/><rect x="1588.7" y="1106.45" width="7.2" height="15.1" fill="#000"/><rect x="1997.8" y="757.65" width="7" height="12.3" fill="#000"/><rect x="2169.5" y="757.65" width="7.3" height="12.3" fill="#000"/><rect x="2221.6" y="757.65" width="7.1" height="12.3" fill="#000"/><rect x="2278.9" y="757.65" width="7.3" height="12.3" fill="#000"/><rect x="2046.1" y="772.47" width="7" height="12.3" fill="#000"/><rect x="2083.8" y="772.47" width="6.6" height="12.3" fill="#000"/><rect x="2092" y="772.47" width="6.6" height="12.3" fill="#000"/><rect x="2108.9" y="772.47" width="6.9" height="12.3" fill="#000"/><rect x="2119.4" y="772.47" width="7.3" height="12.3" fill="#000"/><rect x="2097.2" y="787.29" width="6.9" height="12.3" fill="#000"/><rect x="2119.4" y="787.29" width="7.3" height="12.3" fill="#000"/><rect x="2160.8" y="787.29" width="7.1" height="12.3" fill="#000"/><rect x="2434.7" y="787.29" width="7.3" height="12.3" fill="#000"/><rect x="2020.1" y="802.11" width="6.9" height="12.3" fill="#000"/><rect x="2030" y="802.11" width="7" height="12.3" fill="#000"/><rect x="2063.2" y="802.11" width="7.1" height="12.3" fill="#000"/><rect x="2076.5" y="802.11" width="7" height="12.3" fill="#000"/><rect x="2085.7" y="802.11" width="63.3" height="12.3" fill="#000"/><rect x="2151.8" y="802.11" width="6.9" height="12.3" fill="#000"/><rect x="2179.6" y="802.11" width="7" height="12.3" fill="#000"/><rect x="2213.4" y="802.11" width="7.2" height="12.3" fill="#000"/><rect x="2268" y="802.11" width="7.3" height="12.3" fill="#000"/><rect x="1997.8" y="816.93" width="7" height="12.3" fill="#000"/><rect x="2114.1" y="816.93" width="6.9" height="12.3" fill="#000"/><rect x="2135.7" y="816.93" width="7" height="12.3" fill="#000"/><rect x="1981" y="831.75" width="12" height="12.3" fill="#000"/><rect x="2030" y="831.75" width="7" height="12.3" fill="#000"/><rect x="2046.1" y="831.75" width="7" height="12.3" fill="#000"/><rect x="2108.9" y="831.75" width="6.9" height="12.3" fill="#000"/><rect x="2118.6" y="831.75" width="7.2" height="12.3" fill="#000"/><rect x="2143" y="831.75" width="11.8" height="12.3" fill="#000"/><rect x="2157.2" y="831.75" width="6.9" height="12.3" fill="#000"/><rect x="2169.5" y="831.75" width="7.3" height="12.3" fill="#000"/><rect x="2192" y="831.75" width="7.1" height="12.3" fill="#000"/><rect x="2204" y="831.75" width="9.4" height="12.3" fill="#000"/><rect x="2440.2" y="831.75" width="7" height="12.3" fill="#000"/><rect x="2095.3" y="846.57" width="7.2" height="12.3" fill="#000"/><rect x="1984.3" y="861.39" width="6.8" height="12.3" fill="#000"/><rect x="1997.8" y="861.39" width="7" height="12.3" fill="#000"/><rect x="2027.4" y="861.39" width="15.7" height="12.3" fill="#000"/><rect x="2048.8" y="861.39" width="7" height="12.3" fill="#000"/><rect x="2061.4" y="861.39" width="24.8" height="12.3" fill="#000"/><rect x="2095.3" y="861.39" width="26.5" height="12.3" fill="#000"/><rect x="2123" y="861.39" width="24.2" height="12.3" fill="#000"/><rect x="2156" y="861.39" width="7.3" height="12.3" fill="#000"/><rect x="2192" y="861.39" width="8.7" height="12.3" fill="#000"/><rect x="2204" y="861.39" width="13" height="12.3" fill="#000"/><rect x="2278.9" y="861.39" width="7.3" height="12.3" fill="#000"/><rect x="2322.8" y="861.39" width="7.2" height="12.3" fill="#000"/><rect x="2392.7" y="861.39" width="16.1" height="12.3" fill="#000"/><rect x="2475.2" y="861.39" width="6" height="12.3" fill="#000"/><rect x="2178.6" y="876.21" width="7.2" height="12.3" fill="#000"/><rect x="2191.3" y="876.21" width="7" height="12.3" fill="#000"/><rect x="2202.9" y="876.21" width="6.9" height="12.3" fill="#000"/><rect x="2252" y="876.21" width="7" height="12.3" fill="#000"/><rect x="1997.8" y="891.03" width="7" height="12.3" fill="#000"/><rect x="2046.1" y="891.03" width="7" height="12.3" fill="#000"/><rect x="2119.4" y="891.03" width="7.3" height="12.3" fill="#000"/><rect x="2169.5" y="891.03" width="7.3" height="12.3" fill="#000"/><rect x="2221.6" y="891.03" width="7.1" height="12.3" fill="#000"/><rect x="2033.4" y="905.85" width="7.3" height="12.3" fill="#000"/><rect x="1979" y="920.67" width="5" height="12.3" fill="#000"/><rect x="2023.8" y="920.67" width="7" height="12.3" fill="#000"/><rect x="2075.7" y="920.67" width="7" height="12.3" fill="#000"/><rect x="2101.7" y="920.67" width="7" height="12.3" fill="#000"/><rect x="2166.9" y="920.67" width="7.2" height="12.3" fill="#000"/><rect x="2211" y="920.67" width="7" height="12.3" fill="#000"/><rect x="2283.1" y="920.67" width="7.5" height="12.3" fill="#000"/><rect x="2400.6" y="920.67" width="7.2" height="12.3" fill="#000"/><rect x="2472.2" y="920.67" width="7.2" height="12.3" fill="#000"/><rect x="1999.6" y="935.49" width="6.7" height="12.3" fill="#000"/><rect x="2007.8" y="935.49" width="6.7" height="12.3" fill="#000"/><rect x="2016" y="935.49" width="6.7" height="12.3" fill="#000"/><rect x="2037.1" y="935.49" width="6.9" height="12.3" fill="#000"/><rect x="2124.2" y="935.49" width="7" height="12.3" fill="#000"/><rect x="2302.2" y="950.31" width="10.5" height="12.3" fill="#000"/><rect x="2323.7" y="950.31" width="6.8" height="12.3" fill="#000"/><rect x="2331.5" y="950.31" width="6.4" height="12.3" fill="#000"/><rect x="2150.1" y="965.13" width="6.8" height="12.3" fill="#000"/><rect x="2199.2" y="965.13" width="6.8" height="12.3" fill="#000"/><rect x="2225" y="965.13" width="11" height="12.3" fill="#000"/><rect x="1980.9" y="979.95" width="7.7" height="12.3" fill="#000"/><rect x="2000.3" y="979.95" width="9.7" height="12.3" fill="#000"/><rect x="2022" y="979.95" width="15.5" height="12.3" fill="#000"/><rect x="2039.3" y="979.95" width="12.7" height="12.3" fill="#000"/><rect x="2058.9" y="979.95" width="15.4" height="12.3" fill="#000"/><rect x="2076.4" y="979.95" width="8.1" height="12.3" fill="#000"/><rect x="2090.1" y="979.95" width="6.8" height="12.3" fill="#000"/><rect x="2101" y="979.95" width="6.6" height="12.3" fill="#000"/><rect x="2121.3" y="979.95" width="6.8" height="12.3" fill="#000"/><rect x="2129.7" y="979.95" width="6.5" height="12.3" fill="#000"/><rect x="2143.7" y="979.95" width="7" height="12.3" fill="#000"/><rect x="2154.4" y="979.95" width="7.1" height="12.3" fill="#000"/><rect x="2168.9" y="979.95" width="6.8" height="12.3" fill="#000"/><rect x="2180.4" y="979.95" width="13.3" height="12.3" fill="#000"/><rect x="2202.7" y="979.95" width="8" height="12.3" fill="#000"/><rect x="2212.9" y="979.95" width="6.5" height="12.3" fill="#000"/><rect x="2234" y="979.95" width="18.9" height="12.3" fill="#000"/><rect x="2273.6" y="979.95" width="6.9" height="12.3" fill="#000"/><rect x="2292.3" y="979.95" width="10.7" height="12.3" fill="#000"/><rect x="2309.2" y="979.95" width="4.7" height="12.3" fill="#000"/><rect x="2324.4" y="979.95" width="7.3" height="12.3" fill="#000"/><rect x="2333" y="979.95" width="8.6" height="12.3" fill="#000"/><rect x="2343.5" y="979.95" width="6.8" height="12.3" fill="#000"/><rect x="2362.2" y="979.95" width="7" height="12.3" fill="#000"/><rect x="2099.1" y="994.77" width="6.8" height="12.3" fill="#000"/><rect x="2338.9" y="994.77" width="7.1" height="12.3" fill="#000"/><rect x="1994.1" y="1024.41" width="7.1" height="12.3" fill="#000"/><rect x="2056.9" y="1024.41" width="6.9" height="12.3" fill="#000"/><rect x="2069.4" y="1024.41" width="14.1" height="12.3" fill="#000"/><rect x="2098.1" y="1024.41" width="13" height="12.3" fill="#000"/><rect x="2125" y="1024.41" width="6.8" height="12.3" fill="#000"/><rect x="2373.8" y="1024.41" width="7.2" height="12.3" fill="#000"/><rect x="2439.2" y="1024.41" width="7" height="12.3" fill="#000"/><rect x="2009.4" y="1039.23" width="7" height="12.3" fill="#000"/><rect x="2038.9" y="1039.23" width="6.9" height="12.3" fill="#000"/><rect x="2077.4" y="1039.23" width="16.7" height="12.3" fill="#000"/><rect x="2120.4" y="1039.23" width="7" height="12.3" fill="#000"/><rect x="2136.5" y="1039.23" width="6.5" height="12.3" fill="#000"/><rect x="2144.9" y="1039.23" width="11" height="12.3" fill="#000"/><rect x="2171.5" y="1039.23" width="13" height="12.3" fill="#000"/><rect x="2186.4" y="1039.23" width="6" height="12.3" fill="#000"/><rect x="2194.7" y="1039.23" width="7" height="12.3" fill="#000"/><rect x="2239.3" y="1039.23" width="7.2" height="12.3" fill="#000"/><rect x="2260.9" y="1039.23" width="7.2" height="12.3" fill="#000"/><rect x="2312.1" y="1039.23" width="7" height="12.3" fill="#000"/><rect x="2325.6" y="1039.23" width="6.9" height="12.3" fill="#000"/><rect x="2336.2" y="1039.23" width="7.1" height="12.3" fill="#000"/><rect x="2455.3" y="1039.23" width="7.2" height="12.3" fill="#000"/><rect x="2157.1" y="1054.05" width="7" height="12.3" fill="#000"/><rect x="2467" y="1054.05" width="7.8" height="12.3" fill="#000"/><rect x="2147.2" y="1068.87" width="6.9" height="12.3" fill="#000"/><rect x="2165.3" y="1068.87" width="8.6" height="12.3" fill="#000"/><rect x="2238.7" y="1068.87" width="7" height="12.3" fill="#000"/><rect x="2255.7" y="1068.87" width="7.1" height="12.3" fill="#000"/><rect x="2263.7" y="1068.87" width="7.1" height="12.3" fill="#000"/><rect x="2277.3" y="1068.87" width="6.8" height="12.3" fill="#000"/><rect x="2314.8" y="1068.87" width="7" height="12.3" fill="#000"/><rect x="2341.6" y="1068.87" width="13.4" height="12.3" fill="#000"/><rect x="2374.2" y="1068.87" width="8.7" height="12.3" fill="#000"/><rect x="2428.4" y="1068.87" width="7.1" height="12.3" fill="#000"/><rect x="2436.7" y="1068.87" width="7.1" height="12.3" fill="#000"/><rect x="2453.7" y="1068.87" width="7.1" height="12.3" fill="#000"/><rect x="2166.2" y="1083.69" width="6.8" height="12.3" fill="#000"/><rect x="2198.4" y="1083.69" width="6.8" height="12.3" fill="#000"/><rect x="2264.7" y="1083.69" width="7" height="12.3" fill="#000"/><rect x="2078.3" y="1098.51" width="6.8" height="12.3" fill="#000"/><rect x="2100.8" y="1098.51" width="6.8" height="12.3" fill="#000"/><rect x="2122.2" y="1098.51" width="6.9" height="12.3" fill="#000"/><rect x="2142.9" y="1098.51" width="6.8" height="12.3" fill="#000"/><rect x="2204.6" y="1098.51" width="6.8" height="12.3" fill="#000"/><rect x="2301.4" y="1098.51" width="7" height="12.3" fill="#000"/><rect x="2315" y="1098.51" width="6.8" height="12.3" fill="#000"/><rect x="2359.6" y="1098.51" width="5.1" height="12.3" fill="#000"/><rect x="2394.6" y="1098.51" width="6.8" height="12.3" fill="#000"/><rect x="2420.6" y="1098.51" width="6.8" height="12.3" fill="#000"/><rect x="2438.6" y="1098.51" width="6.8" height="12.3" fill="#000"/><rect x="2447.2" y="1098.51" width="6.8" height="12.3" fill="#000"/><rect x="2468.3" y="1098.51" width="6.5" height="12.3" fill="#000"/><rect x="2113.2" y="1113.33" width="6.8" height="12.3" fill="#000"/><rect x="2129.7" y="1113.33" width="12.6" height="12.3" fill="#000"/><rect x="2150.1" y="1113.33" width="6.8" height="12.3" fill="#000"/><rect x="2182.3" y="1113.33" width="6.8" height="12.3" fill="#000"/><rect x="2254.8" y="1113.33" width="7" height="12.3" fill="#000"/><rect x="2323.8" y="1113.33" width="11.4" height="12.3" fill="#000"/><rect x="2342.6" y="1113.33" width="12.4" height="12.3" fill="#000"/><rect x="2373" y="1113.33" width="4.9" height="12.3" fill="#000"/><rect x="2383.5" y="1113.33" width="6.2" height="12.3" fill="#000"/><rect x="2400" y="1113.33" width="9.1" height="12.3" fill="#000"/><rect x="2414.7" y="1113.33" width="4.7" height="12.3" fill="#000"/><rect x="2428.4" y="1113.33" width="7.1" height="12.3" fill="#000"/><rect x="2461.7" y="1113.33" width="6.9" height="12.3" fill="#000"/><rect x="2475.5" y="1113.33" width="5.2" height="12.3" fill="#000"/><rect x="139.9" y="763" width="6" height="365" fill="#000"/><rect x="139.9" y="1122.3" width="470.7" height="5.7" fill="#000"/><rect x="145.4" y="763" width="7.4" height="6" fill="#000"/><rect x="145.4" y="834.5" width="7.4" height="6" fill="#000"/><rect x="145.4" y="905.2" width="7.4" height="6" fill="#000"/><rect x="145.4" y="977.8" width="7.4" height="6" fill="#000"/><rect x="145.4" y="1049.4" width="7.4" height="6" fill="#000"/><rect x="145.4" y="1107.1" width="7.4" height="6" fill="#000"/><rect x="607.2" y="1115.5" width="6.2" height="12.5" fill="#000"/><rect x="740.6" y="767.2" width="6" height="361.7" fill="#000"/><rect x="740.6" y="1122.8" width="470.4" height="6.1" fill="#000"/><rect x="746.1" y="786.6" width="7.4" height="6" fill="#000"/><rect x="746.1" y="898.8" width="7.4" height="6" fill="#000"/><rect x="746.1" y="1010.8" width="7.4" height="6" fill="#000"/><rect x="746.1" y="1100.5" width="7.4" height="6" fill="#000"/><rect x="1206.9" y="1116" width="6.1" height="12.9" fill="#000"/><rect x="1338" y="743" width="6.7" height="391.8" fill="#000"/><rect x="1338" y="1128.9" width="512" height="5.9" fill="#000"/><rect x="1344.2" y="757.4" width="7.7" height="6" fill="#000"/><rect x="1344.2" y="850.3" width="7.7" height="6" fill="#000"/><rect x="1344.2" y="943.3" width="7.7" height="6" fill="#000"/><rect x="1344.2" y="1036.3" width="7.7" height="6" fill="#000"/><rect x="1344.2" y="1110.4" width="7.7" height="6" fill="#000"/><rect x="1845.6" y="1121.6" width="7" height="13.2" fill="#000"/><rect x="1974.6" y="746.8" width="6.5" height="391.2" fill="#000"/><rect x="1974.6" y="1131.2" width="507.4" height="6.8" fill="#000"/><rect x="1980.6" y="759.1" width="8.1" height="6" fill="#000"/><rect x="1980.6" y="834.4" width="8.1" height="6" fill="#000"/><rect x="1980.6" y="907.8" width="8.1" height="6" fill="#000"/><rect x="1980.6" y="981.8" width="8.1" height="6" fill="#000"/><rect x="1980.6" y="1056.5" width="8.1" height="6" fill="#000"/><rect x="1980.6" y="1116.4" width="8.1" height="6" fill="#000"/><rect x="2478.2" y="1123.8" width="6.5" height="14.2" fill="#000"/><polygon points="344.9,1175.8 369.05,1133.6 393.2,1175.8" fill="#FF0000"/><polygon points="873.6,1175.2 898.05,1134.5 922.5,1175.2" fill="#FF0000"/><polygon points="1548.6,1181.7 1573.05,1139.3 1597.5,1181.7" fill="#FF0000"/><polygon points="2185,1182.5 2208.95,1142 2232.9,1182.5" fill="#FF0000"/><polygon points="391.7,1783.8 415.35,1743.6 439,1783.8" fill="#FF0000"/><polygon points="921.8,1781.5 946.15,1739.7 970.5,1781.5" fill="#FF0000"/><polygon points="1584,1781.5 1607.9,1739.7 1631.8,1781.5" fill="#FF0000"/><polygon points="2198.8,1778 2222.8,1736.6 2246.8,1778" fill="#FF0000"/><rect x="1568" y="1190.5" width="7" height="2" fill="#999"/><rect x="2204.5" y="1192.3" width="8.2" height="2" fill="#999"/><polygon points="188,1605.1 189.25,1605.63 190.93,1606.4 192.95,1607.29 195.19,1608.2 197.54,1609.04 199.9,1609.7 201.53,1610.04 203.28,1610.36 205.13,1610.64 207.03,1610.89 208.93,1611.1 210.81,1611.27 212.63,1611.4 214.34,1611.47 215.9,1611.5 217.99,1611.44 219.88,1611.27 221.62,1611 223.26,1610.64 224.87,1610.2 226.5,1609.7 228.42,1609.01 230.25,1608.22 232.05,1607.32 233.88,1606.28 235.8,1605.1 237.46,1604.02 239.14,1602.86 240.85,1601.6 242.62,1600.23 244.46,1598.74 246.4,1597.1 248.16,1595.54 250,1593.84 251.91,1592.02 253.86,1590.14 255.82,1588.23 257.78,1586.34 259.7,1584.5 261.6,1582.69 263.5,1580.88 265.4,1579.07 267.3,1577.26 269.2,1575.46 271.1,1573.67 273,1571.9 274.92,1570.14 276.88,1568.39 278.84,1566.64 280.79,1564.91 282.7,1563.21 284.54,1561.54 286.3,1559.9 288.24,1558.07 290.08,1556.31 291.85,1554.6 293.56,1552.89 295.24,1551.13 296.9,1549.3 298.84,1547.03 300.71,1544.73 302.54,1542.35 304.36,1539.89 306.2,1537.3 308.04,1534.63 309.86,1531.9 311.69,1529.05 313.56,1526 315.5,1522.7 317.21,1519.66 318.99,1516.36 320.8,1512.92 322.61,1509.44 324.39,1506.03 326.1,1502.8 328.06,1499.08 329.98,1495.4 331.84,1491.86 333.64,1488.53 335.4,1485.5 337.08,1482.77 338.69,1480.29 340.26,1478.04 341.82,1476.02 343.4,1474.2 345.04,1472.59 346.73,1471.2 348.39,1470.03 349.97,1469.06 351.4,1468.3 352.88,1467.71 354.14,1467.5 355.35,1467.51 356.7,1467.6 358.26,1467.67 359.91,1467.83 361.61,1468.2 363.3,1468.9 364.91,1469.9 366.48,1471.15 368.14,1472.78 370,1474.9 371.69,1477.03 373.53,1479.5 375.46,1482.24 377.4,1485.17 379.3,1488.2 381.14,1491.34 382.96,1494.64 384.79,1498.11 386.66,1501.73 388.6,1505.5 390.29,1508.81 392.04,1512.27 393.82,1515.85 395.62,1519.48 397.42,1523.12 399.2,1526.7 400.97,1530.27 402.75,1533.88 404.52,1537.49 406.3,1541.07 408.06,1544.58 409.8,1548 411.5,1551.36 413.17,1554.71 414.82,1557.99 416.5,1561.16 418.21,1564.18 420,1567 421.88,1569.59 423.82,1571.97 425.81,1574.21 427.81,1576.34 429.82,1578.42 431.8,1580.5 433.75,1582.58 435.7,1584.61 437.65,1586.6 439.6,1588.53 441.55,1590.4 443.5,1592.2 445.43,1593.91 447.34,1595.54 449.25,1597.1 451.19,1598.63 453.2,1600.15 455.3,1601.7 456.94,1602.87 458.64,1604.04 460.37,1605.2 462.14,1606.36 463.93,1607.51 465.74,1608.67 467.57,1609.83 469.4,1611 471.23,1612.19 473.06,1613.42 474.91,1614.67 476.77,1615.91 478.67,1617.13 480.6,1618.29 482.57,1619.39 484.6,1620.4 486.46,1621.25 488.37,1622.09 490.32,1622.91 492.3,1623.68 494.3,1624.39 496.31,1625.03 498.33,1625.57 500.32,1626 502.3,1626.3 504.29,1626.44 506.33,1626.41 508.39,1626.26 510.45,1626.01 512.48,1625.7 514.47,1625.37 516.38,1625.05 518.2,1624.78 519.9,1624.6 522.2,1624.4 524.27,1624.21 526.17,1624.05 527.99,1623.94 529.81,1623.92 531.7,1624 533.59,1624.18 535.39,1624.44 537.19,1624.78 539.07,1625.2 541.11,1625.71 543.4,1626.3 545.1,1626.77 546.91,1627.33 548.83,1627.95 550.81,1628.61 552.85,1629.28 554.91,1629.94 556.97,1630.56 559.01,1631.12 561,1631.6 562.96,1632 564.93,1632.36 566.9,1632.68 568.87,1632.96 570.83,1633.22 572.8,1633.44 574.77,1633.64 576.74,1633.83 578.7,1634 580.66,1634.16 582.62,1634.29 584.57,1634.4 586.53,1634.49 588.48,1634.56 590.44,1634.6 592.39,1634.62 594.34,1634.62 596.3,1634.6 598.26,1634.55 600.21,1634.47 602.16,1634.36 604.12,1634.22 606.07,1634.07 608.03,1633.91 609.98,1633.74 611.94,1633.57 613.9,1633.4 615.86,1633.22 617.83,1633.03 619.8,1632.83 621.77,1632.62 623.73,1632.41 625.7,1632.2 627.67,1631.99 629.64,1631.79 631.6,1631.6 633.57,1631.41 635.54,1631.2 637.52,1630.99 639.49,1630.78 641.47,1630.59 643.43,1630.41 645.37,1630.27 647.3,1630.16 649.2,1630.1 651.16,1630.1 653.24,1630.16 655.36,1630.26 657.47,1630.38 659.5,1630.53 661.39,1630.68 663.08,1630.81 664.5,1630.93 665.6,1631 665.6,1667.6 664.5,1667.53 663.08,1667.41 661.39,1667.28 659.5,1667.13 657.47,1666.98 655.36,1666.86 653.24,1666.76 651.16,1666.7 649.2,1666.7 647.3,1666.76 645.37,1666.87 643.43,1667.01 641.47,1667.19 639.49,1667.38 637.52,1667.59 635.54,1667.8 633.57,1668.01 631.6,1668.2 629.64,1668.39 627.67,1668.59 625.7,1668.8 623.73,1669.01 621.77,1669.22 619.8,1669.43 617.83,1669.63 615.86,1669.82 613.9,1670 611.94,1670.17 609.98,1670.34 608.03,1670.51 606.07,1670.67 604.12,1670.82 602.16,1670.96 600.21,1671.07 598.26,1671.15 596.3,1671.2 594.34,1671.22 592.39,1671.22 590.44,1671.2 588.48,1671.16 586.53,1671.09 584.57,1671 582.62,1670.89 580.66,1670.76 578.7,1670.6 576.74,1670.43 574.77,1670.24 572.8,1670.04 570.83,1669.82 568.87,1669.56 566.9,1669.28 564.93,1668.96 562.96,1668.6 561,1668.2 559.01,1667.72 556.97,1667.16 554.91,1666.54 552.85,1665.88 550.81,1665.21 548.83,1664.55 546.91,1663.93 545.1,1663.37 543.4,1662.9 541.11,1662.31 539.07,1661.8 537.19,1661.38 535.39,1661.04 533.59,1660.78 531.7,1660.6 529.81,1660.52 527.99,1660.54 526.17,1660.65 524.27,1660.81 522.2,1661 519.9,1661.2 518.2,1661.38 516.38,1661.65 514.47,1661.97 512.48,1662.3 510.45,1662.61 508.39,1662.86 506.33,1663.01 504.29,1663.04 502.3,1662.9 500.32,1662.6 498.33,1662.17 496.31,1661.63 494.3,1660.99 492.3,1660.28 490.32,1659.51 488.37,1658.69 486.46,1657.85 484.6,1657 482.57,1655.99 480.6,1654.89 478.67,1653.73 476.77,1652.51 474.91,1651.27 473.06,1650.02 471.23,1648.79 469.4,1647.6 467.57,1646.43 465.74,1645.27 463.93,1644.11 462.14,1642.96 460.37,1641.8 458.64,1640.64 456.94,1639.47 455.3,1638.3 453.2,1636.75 451.19,1635.23 449.25,1633.7 447.34,1632.14 445.43,1630.51 443.5,1628.8 441.55,1627 439.6,1625.13 437.65,1623.2 435.7,1621.21 433.75,1619.18 431.8,1617.1 429.82,1615.02 427.81,1612.94 425.81,1610.81 423.82,1608.57 421.88,1606.19 420,1603.6 418.21,1600.78 416.5,1597.76 414.82,1594.59 413.17,1591.31 411.5,1587.96 409.8,1584.6 408.06,1581.18 406.3,1577.67 404.52,1574.09 402.75,1570.48 400.97,1566.87 399.2,1563.3 397.42,1559.72 395.62,1556.08 393.82,1552.45 392.04,1548.87 390.29,1545.41 388.6,1542.1 386.66,1538.33 384.79,1534.71 382.96,1531.24 381.14,1527.94 379.3,1524.8 377.4,1521.77 375.46,1518.84 373.53,1516.1 371.69,1513.63 370,1511.5 368.14,1509.38 366.48,1507.75 364.91,1506.5 363.3,1505.5 361.61,1504.8 359.91,1504.43 358.26,1504.27 356.7,1504.2 355.35,1504.11 354.14,1504.1 352.88,1504.31 351.4,1504.9 349.97,1505.66 348.39,1506.63 346.73,1507.8 345.04,1509.19 343.4,1510.8 341.82,1512.62 340.26,1514.64 338.69,1516.89 337.08,1519.37 335.4,1522.1 333.64,1525.13 331.84,1528.46 329.98,1532 328.06,1535.68 326.1,1539.4 324.39,1542.63 322.61,1546.04 320.8,1549.52 318.99,1552.96 317.21,1556.26 315.5,1559.3 313.56,1562.6 311.69,1565.65 309.86,1568.5 308.04,1571.23 306.2,1573.9 304.36,1576.49 302.54,1578.95 300.71,1581.33 298.84,1583.63 296.9,1585.9 295.24,1587.73 293.56,1589.49 291.85,1591.2 290.08,1592.91 288.24,1594.67 286.3,1596.5 284.54,1598.14 282.7,1599.81 280.79,1601.51 278.84,1603.24 276.88,1604.99 274.92,1606.74 273,1608.5 271.1,1610.27 269.2,1612.06 267.3,1613.86 265.4,1615.67 263.5,1617.48 261.6,1619.29 259.7,1621.1 257.78,1622.94 255.82,1624.83 253.86,1626.74 251.91,1628.62 250,1630.44 248.16,1632.14 246.4,1633.7 244.46,1635.34 242.62,1636.83 240.85,1638.2 239.14,1639.46 237.46,1640.62 235.8,1641.7 233.88,1642.88 232.05,1643.92 230.25,1644.82 228.42,1645.61 226.5,1646.3 224.87,1646.8 223.26,1647.24 221.62,1647.6 219.88,1647.87 217.99,1648.04 215.9,1648.1 214.34,1648.07 212.63,1648 210.81,1647.87 208.93,1647.7 207.03,1647.49 205.13,1647.24 203.28,1646.96 201.53,1646.64 199.9,1646.3 197.54,1645.64 195.19,1644.8 192.95,1643.89 190.93,1643 189.25,1642.23 188,1641.7" fill="#D4D4D4"/><polyline points="188,1623.4 189.25,1623.93 190.93,1624.7 192.95,1625.59 195.19,1626.5 197.54,1627.34 199.9,1628 201.53,1628.34 203.28,1628.66 205.13,1628.94 207.03,1629.19 208.93,1629.4 210.81,1629.57 212.63,1629.7 214.34,1629.77 215.9,1629.8 217.99,1629.74 219.88,1629.57 221.62,1629.3 223.26,1628.94 224.87,1628.5 226.5,1628 228.42,1627.31 230.25,1626.52 232.05,1625.62 233.88,1624.58 235.8,1623.4 237.46,1622.32 239.14,1621.16 240.85,1619.9 242.62,1618.53 244.46,1617.04 246.4,1615.4 248.16,1613.84 250,1612.14 251.91,1610.32 253.86,1608.44 255.82,1606.53 257.78,1604.64 259.7,1602.8 261.6,1600.99 263.5,1599.18 265.4,1597.37 267.3,1595.56 269.2,1593.76 271.1,1591.97 273,1590.2 274.92,1588.44 276.88,1586.69 278.84,1584.94 280.79,1583.21 282.7,1581.51 284.54,1579.84 286.3,1578.2 288.24,1576.37 290.08,1574.61 291.85,1572.9 293.56,1571.19 295.24,1569.43 296.9,1567.6 298.84,1565.33 300.71,1563.03 302.54,1560.65 304.36,1558.19 306.2,1555.6 308.04,1552.93 309.86,1550.2 311.69,1547.35 313.56,1544.3 315.5,1541 317.21,1537.96 318.99,1534.66 320.8,1531.22 322.61,1527.74 324.39,1524.33 326.1,1521.1 328.06,1517.38 329.98,1513.7 331.84,1510.16 333.64,1506.83 335.4,1503.8 337.08,1501.07 338.69,1498.59 340.26,1496.34 341.82,1494.32 343.4,1492.5 345.04,1490.89 346.73,1489.5 348.39,1488.33 349.97,1487.36 351.4,1486.6 352.88,1486.01 354.14,1485.8 355.35,1485.81 356.7,1485.9 358.26,1485.97 359.91,1486.13 361.61,1486.5 363.3,1487.2 364.91,1488.2 366.48,1489.45 368.14,1491.08 370,1493.2 371.69,1495.33 373.53,1497.8 375.46,1500.54 377.4,1503.47 379.3,1506.5 381.14,1509.64 382.96,1512.94 384.79,1516.41 386.66,1520.03 388.6,1523.8 390.29,1527.11 392.04,1530.57 393.82,1534.15 395.62,1537.78 397.42,1541.42 399.2,1545 400.97,1548.57 402.75,1552.18 404.52,1555.79 406.3,1559.37 408.06,1562.88 409.8,1566.3 411.5,1569.66 413.17,1573.01 414.82,1576.29 416.5,1579.46 418.21,1582.48 420,1585.3 421.88,1587.89 423.82,1590.27 425.81,1592.51 427.81,1594.64 429.82,1596.72 431.8,1598.8 433.75,1600.88 435.7,1602.91 437.65,1604.9 439.6,1606.83 441.55,1608.7 443.5,1610.5 445.43,1612.21 447.34,1613.84 449.25,1615.4 451.19,1616.93 453.2,1618.45 455.3,1620 456.94,1621.17 458.64,1622.34 460.37,1623.5 462.14,1624.66 463.93,1625.81 465.74,1626.97 467.57,1628.13 469.4,1629.3 471.23,1630.49 473.06,1631.72 474.91,1632.97 476.77,1634.21 478.67,1635.43 480.6,1636.59 482.57,1637.69 484.6,1638.7 486.46,1639.55 488.37,1640.39 490.32,1641.21 492.3,1641.98 494.3,1642.69 496.31,1643.33 498.33,1643.87 500.32,1644.3 502.3,1644.6 504.29,1644.74 506.33,1644.71 508.39,1644.56 510.45,1644.31 512.48,1644 514.47,1643.67 516.38,1643.35 518.2,1643.08 519.9,1642.9 522.2,1642.7 524.27,1642.51 526.17,1642.35 527.99,1642.24 529.81,1642.22 531.7,1642.3 533.59,1642.48 535.39,1642.74 537.19,1643.08 539.07,1643.5 541.11,1644.01 543.4,1644.6 545.1,1645.07 546.91,1645.63 548.83,1646.25 550.81,1646.91 552.85,1647.58 554.91,1648.24 556.97,1648.86 559.01,1649.42 561,1649.9 562.96,1650.3 564.93,1650.66 566.9,1650.98 568.87,1651.26 570.83,1651.52 572.8,1651.74 574.77,1651.94 576.74,1652.13 578.7,1652.3 580.66,1652.46 582.62,1652.59 584.57,1652.7 586.53,1652.79 588.48,1652.86 590.44,1652.9 592.39,1652.92 594.34,1652.92 596.3,1652.9 598.26,1652.85 600.21,1652.77 602.16,1652.66 604.12,1652.52 606.07,1652.37 608.03,1652.21 609.98,1652.04 611.94,1651.87 613.9,1651.7 615.86,1651.52 617.83,1651.33 619.8,1651.13 621.77,1650.92 623.73,1650.71 625.7,1650.5 627.67,1650.29 629.64,1650.09 631.6,1649.9 633.57,1649.71 635.54,1649.5 637.52,1649.29 639.49,1649.08 641.47,1648.89 643.43,1648.71 645.37,1648.57 647.3,1648.46 649.2,1648.4 651.16,1648.4 653.24,1648.46 655.36,1648.56 657.47,1648.68 659.5,1648.83 661.39,1648.98 663.08,1649.11 664.5,1649.23 665.6,1649.3" fill="none" stroke="#000" stroke-width="7" stroke-linejoin="round"/><polygon points="789.4,1592.3 790.51,1591.79 791.98,1591.14 793.72,1590.36 795.67,1589.49 797.74,1588.53 799.87,1587.52 801.98,1586.47 804,1585.4 805.76,1584.45 807.56,1583.48 809.41,1582.48 811.27,1581.44 813.15,1580.35 815.03,1579.19 816.88,1577.95 818.71,1576.63 820.5,1575.2 822.48,1573.44 824.45,1571.52 826.41,1569.47 828.34,1567.34 830.24,1565.16 832.11,1562.97 833.93,1560.81 835.7,1558.7 837.65,1556.36 839.51,1554.06 841.32,1551.76 843.09,1549.45 844.84,1547.1 846.61,1544.69 848.4,1542.2 850.21,1539.63 852.03,1536.99 853.84,1534.3 855.66,1531.57 857.47,1528.8 859.29,1526 861.1,1523.2 862.91,1520.37 864.73,1517.49 866.54,1514.59 868.36,1511.67 870.17,1508.74 871.99,1505.81 873.8,1502.9 875.61,1499.98 877.43,1497.02 879.24,1494.06 881.06,1491.12 882.87,1488.21 884.69,1485.36 886.5,1482.6 888.32,1479.94 890.13,1477.36 891.95,1474.84 893.76,1472.36 895.58,1469.89 897.39,1467.41 899.2,1464.9 901,1462.26 902.8,1459.47 904.6,1456.64 906.4,1453.89 908.2,1451.31 910,1449.01 911.8,1447.1 913.61,1445.6 915.42,1444.42 917.24,1443.51 919.05,1442.81 920.87,1442.26 922.68,1441.81 924.5,1441.4 926.31,1441.05 928.13,1440.82 929.94,1440.7 931.76,1440.7 933.57,1440.82 935.39,1441.05 937.2,1441.4 938.99,1441.88 940.76,1442.48 942.51,1443.21 944.28,1444.04 946.09,1444.98 947.95,1446 949.9,1447.1 951.71,1448.18 953.64,1449.39 955.64,1450.71 957.66,1452.08 959.66,1453.47 961.59,1454.83 963.42,1456.12 965.1,1457.3 967.03,1458.63 968.69,1459.74 970.2,1460.79 971.71,1461.9 973.37,1463.22 975.3,1464.9 976.95,1466.41 978.72,1468.08 980.58,1469.88 982.51,1471.79 984.49,1473.79 986.49,1475.85 988.5,1477.97 990.5,1480.1 992.3,1482.05 994.15,1484.09 996.04,1486.2 997.95,1488.35 999.86,1490.53 1001.73,1492.71 1003.56,1494.89 1005.33,1497.02 1007,1499.1 1009.03,1501.75 1010.98,1504.43 1012.83,1507.09 1014.62,1509.71 1016.36,1512.24 1018.04,1514.65 1019.7,1516.9 1021.54,1519.33 1023.27,1521.59 1024.94,1523.69 1026.58,1525.68 1028.25,1527.57 1030,1529.4 1031.8,1531.16 1033.61,1532.84 1035.44,1534.42 1037.33,1535.9 1039.27,1537.26 1041.3,1538.5 1043.13,1539.51 1045.05,1540.49 1047.03,1541.4 1049.03,1542.2 1051.03,1542.84 1053,1543.29 1054.9,1543.5 1056.72,1543.47 1058.5,1543.22 1060.24,1542.78 1061.96,1542.18 1063.7,1541.43 1065.48,1540.57 1067.3,1539.6 1069.19,1538.49 1071.13,1537.21 1073.11,1535.78 1075.09,1534.26 1077.07,1532.66 1079.01,1531.03 1080.9,1529.4 1082.72,1527.75 1084.5,1526.05 1086.24,1524.3 1087.96,1522.51 1089.7,1520.69 1091.48,1518.85 1093.3,1517 1095.18,1515.07 1097.1,1513.04 1099.05,1510.96 1101.02,1508.89 1102.99,1506.91 1104.95,1505.05 1106.9,1503.4 1108.83,1501.92 1110.76,1500.56 1112.69,1499.32 1114.61,1498.19 1116.54,1497.18 1118.47,1496.28 1120.4,1495.5 1122.33,1494.85 1124.25,1494.33 1126.16,1493.94 1128.09,1493.65 1130.03,1493.44 1132,1493.3 1134,1493.2 1135.77,1493.15 1137.55,1493.14 1139.34,1493.17 1141.14,1493.27 1142.98,1493.43 1144.84,1493.67 1146.75,1493.99 1148.7,1494.4 1150.48,1494.86 1152.31,1495.42 1154.17,1496.06 1156.05,1496.75 1157.96,1497.49 1159.88,1498.27 1161.8,1499.05 1163.71,1499.84 1165.6,1500.6 1167.49,1501.37 1169.37,1502.16 1171.26,1502.97 1173.15,1503.8 1175.05,1504.63 1176.94,1505.46 1178.83,1506.29 1180.71,1507.1 1182.6,1507.9 1184.48,1508.69 1186.36,1509.49 1188.24,1510.29 1190.11,1511.08 1191.99,1511.86 1193.86,1512.62 1195.74,1513.35 1197.62,1514.05 1199.5,1514.7 1201.39,1515.31 1203.27,1515.88 1205.16,1516.41 1207.05,1516.92 1208.95,1517.4 1210.84,1517.87 1212.73,1518.32 1214.61,1518.76 1216.5,1519.2 1218.38,1519.64 1220.26,1520.07 1222.14,1520.5 1224.01,1520.91 1225.89,1521.3 1227.76,1521.67 1229.64,1522.01 1231.52,1522.32 1233.4,1522.6 1235.25,1522.83 1237.04,1523.03 1238.81,1523.19 1240.58,1523.32 1242.38,1523.44 1244.23,1523.53 1246.17,1523.62 1248.22,1523.71 1250.4,1523.8 1252.22,1523.87 1254.24,1523.93 1256.41,1523.99 1258.68,1524.04 1261,1524.08 1263.31,1524.12 1265.57,1524.16 1267.71,1524.2 1269.68,1524.23 1271.44,1524.25 1272.93,1524.28 1274.1,1524.3 1274.1,1561.1 1272.93,1561.08 1271.44,1561.05 1269.68,1561.03 1267.71,1561 1265.57,1560.96 1263.31,1560.93 1261,1560.88 1258.68,1560.84 1256.41,1560.79 1254.24,1560.73 1252.22,1560.67 1250.4,1560.6 1248.22,1560.51 1246.17,1560.42 1244.23,1560.33 1242.38,1560.24 1240.58,1560.12 1238.81,1559.99 1237.04,1559.83 1235.25,1559.63 1233.4,1559.4 1231.52,1559.12 1229.64,1558.81 1227.76,1558.47 1225.89,1558.1 1224.01,1557.71 1222.14,1557.3 1220.26,1556.87 1218.38,1556.44 1216.5,1556 1214.61,1555.56 1212.73,1555.12 1210.84,1554.67 1208.95,1554.2 1207.05,1553.72 1205.16,1553.21 1203.27,1552.68 1201.39,1552.11 1199.5,1551.5 1197.62,1550.85 1195.74,1550.15 1193.86,1549.42 1191.99,1548.66 1190.11,1547.88 1188.24,1547.09 1186.36,1546.29 1184.48,1545.49 1182.6,1544.7 1180.71,1543.9 1178.83,1543.09 1176.94,1542.26 1175.05,1541.43 1173.15,1540.6 1171.26,1539.77 1169.37,1538.96 1167.49,1538.17 1165.6,1537.4 1163.71,1536.64 1161.8,1535.85 1159.88,1535.07 1157.96,1534.29 1156.05,1533.55 1154.17,1532.86 1152.31,1532.22 1150.48,1531.66 1148.7,1531.2 1146.75,1530.79 1144.84,1530.47 1142.98,1530.23 1141.14,1530.07 1139.34,1529.97 1137.55,1529.94 1135.77,1529.95 1134,1530 1132,1530.1 1130.03,1530.24 1128.09,1530.45 1126.16,1530.74 1124.25,1531.13 1122.33,1531.65 1120.4,1532.3 1118.47,1533.08 1116.54,1533.98 1114.61,1534.99 1112.69,1536.12 1110.76,1537.36 1108.83,1538.72 1106.9,1540.2 1104.95,1541.85 1102.99,1543.71 1101.02,1545.69 1099.05,1547.76 1097.1,1549.84 1095.18,1551.87 1093.3,1553.8 1091.48,1555.65 1089.7,1557.49 1087.96,1559.31 1086.24,1561.1 1084.5,1562.85 1082.72,1564.55 1080.9,1566.2 1079.01,1567.83 1077.07,1569.46 1075.09,1571.06 1073.11,1572.58 1071.13,1574.01 1069.19,1575.29 1067.3,1576.4 1065.48,1577.37 1063.7,1578.23 1061.96,1578.98 1060.24,1579.58 1058.5,1580.02 1056.72,1580.27 1054.9,1580.3 1053,1580.09 1051.03,1579.64 1049.03,1579 1047.03,1578.2 1045.05,1577.29 1043.13,1576.31 1041.3,1575.3 1039.27,1574.06 1037.33,1572.7 1035.44,1571.22 1033.61,1569.64 1031.8,1567.96 1030,1566.2 1028.25,1564.37 1026.58,1562.48 1024.94,1560.49 1023.27,1558.39 1021.54,1556.13 1019.7,1553.7 1018.04,1551.45 1016.36,1549.04 1014.62,1546.51 1012.83,1543.89 1010.98,1541.23 1009.03,1538.55 1007,1535.9 1005.33,1533.82 1003.56,1531.69 1001.73,1529.51 999.86,1527.33 997.95,1525.15 996.04,1523 994.15,1520.89 992.3,1518.85 990.5,1516.9 988.5,1514.77 986.49,1512.65 984.49,1510.59 982.51,1508.59 980.58,1506.68 978.72,1504.88 976.95,1503.21 975.3,1501.7 973.37,1500.02 971.71,1498.7 970.2,1497.59 968.69,1496.54 967.03,1495.43 965.1,1494.1 963.42,1492.92 961.59,1491.63 959.66,1490.27 957.66,1488.88 955.64,1487.51 953.64,1486.19 951.71,1484.98 949.9,1483.9 947.95,1482.8 946.09,1481.78 944.28,1480.84 942.51,1480.01 940.76,1479.28 938.99,1478.68 937.2,1478.2 935.39,1477.85 933.57,1477.62 931.76,1477.5 929.94,1477.5 928.13,1477.62 926.31,1477.85 924.5,1478.2 922.68,1478.61 920.87,1479.06 919.05,1479.61 917.24,1480.31 915.42,1481.22 913.61,1482.4 911.8,1483.9 910,1485.81 908.2,1488.11 906.4,1490.69 904.6,1493.44 902.8,1496.27 901,1499.06 899.2,1501.7 897.39,1504.21 895.58,1506.69 893.76,1509.16 891.95,1511.64 890.13,1514.16 888.32,1516.74 886.5,1519.4 884.69,1522.16 882.87,1525.01 881.06,1527.92 879.24,1530.86 877.43,1533.82 875.61,1536.78 873.8,1539.7 871.99,1542.61 870.17,1545.54 868.36,1548.47 866.54,1551.39 864.73,1554.29 862.91,1557.17 861.1,1560 859.29,1562.8 857.47,1565.6 855.66,1568.37 853.84,1571.1 852.03,1573.79 850.21,1576.43 848.4,1579 846.61,1581.49 844.84,1583.9 843.09,1586.25 841.32,1588.56 839.51,1590.86 837.65,1593.16 835.7,1595.5 833.93,1597.61 832.11,1599.77 830.24,1601.96 828.34,1604.14 826.41,1606.27 824.45,1608.32 822.48,1610.24 820.5,1612 818.71,1613.43 816.88,1614.75 815.03,1615.99 813.15,1617.15 811.27,1618.24 809.41,1619.28 807.56,1620.28 805.76,1621.25 804,1622.2 801.98,1623.27 799.87,1624.32 797.74,1625.33 795.67,1626.29 793.72,1627.16 791.98,1627.94 790.51,1628.59 789.4,1629.1" fill="#D4D4D4"/><polyline points="789.4,1610.7 790.51,1610.19 791.98,1609.54 793.72,1608.76 795.67,1607.89 797.74,1606.93 799.87,1605.92 801.98,1604.87 804,1603.8 805.76,1602.85 807.56,1601.88 809.41,1600.88 811.27,1599.84 813.15,1598.75 815.03,1597.59 816.88,1596.35 818.71,1595.03 820.5,1593.6 822.48,1591.84 824.45,1589.92 826.41,1587.87 828.34,1585.74 830.24,1583.56 832.11,1581.37 833.93,1579.21 835.7,1577.1 837.65,1574.76 839.51,1572.46 841.32,1570.16 843.09,1567.85 844.84,1565.5 846.61,1563.09 848.4,1560.6 850.21,1558.03 852.03,1555.39 853.84,1552.7 855.66,1549.97 857.47,1547.2 859.29,1544.4 861.1,1541.6 862.91,1538.77 864.73,1535.89 866.54,1532.99 868.36,1530.07 870.17,1527.14 871.99,1524.21 873.8,1521.3 875.61,1518.38 877.43,1515.42 879.24,1512.46 881.06,1509.52 882.87,1506.61 884.69,1503.76 886.5,1501 888.32,1498.34 890.13,1495.76 891.95,1493.24 893.76,1490.76 895.58,1488.29 897.39,1485.81 899.2,1483.3 901,1480.66 902.8,1477.87 904.6,1475.04 906.4,1472.29 908.2,1469.71 910,1467.41 911.8,1465.5 913.61,1464 915.42,1462.82 917.24,1461.91 919.05,1461.21 920.87,1460.66 922.68,1460.21 924.5,1459.8 926.31,1459.45 928.13,1459.22 929.94,1459.1 931.76,1459.1 933.57,1459.22 935.39,1459.45 937.2,1459.8 938.99,1460.28 940.76,1460.88 942.51,1461.61 944.28,1462.44 946.09,1463.38 947.95,1464.4 949.9,1465.5 951.71,1466.58 953.64,1467.79 955.64,1469.11 957.66,1470.48 959.66,1471.87 961.59,1473.23 963.42,1474.52 965.1,1475.7 967.03,1477.03 968.69,1478.14 970.2,1479.19 971.71,1480.3 973.37,1481.62 975.3,1483.3 976.95,1484.81 978.72,1486.48 980.58,1488.28 982.51,1490.19 984.49,1492.19 986.49,1494.25 988.5,1496.37 990.5,1498.5 992.3,1500.45 994.15,1502.49 996.04,1504.6 997.95,1506.75 999.86,1508.93 1001.73,1511.11 1003.56,1513.29 1005.33,1515.42 1007,1517.5 1009.03,1520.15 1010.98,1522.83 1012.83,1525.49 1014.62,1528.11 1016.36,1530.64 1018.04,1533.05 1019.7,1535.3 1021.54,1537.73 1023.27,1539.99 1024.94,1542.09 1026.58,1544.08 1028.25,1545.97 1030,1547.8 1031.8,1549.56 1033.61,1551.24 1035.44,1552.82 1037.33,1554.3 1039.27,1555.66 1041.3,1556.9 1043.13,1557.91 1045.05,1558.89 1047.03,1559.8 1049.03,1560.6 1051.03,1561.24 1053,1561.69 1054.9,1561.9 1056.72,1561.87 1058.5,1561.62 1060.24,1561.18 1061.96,1560.58 1063.7,1559.83 1065.48,1558.97 1067.3,1558 1069.19,1556.89 1071.13,1555.61 1073.11,1554.18 1075.09,1552.66 1077.07,1551.06 1079.01,1549.43 1080.9,1547.8 1082.72,1546.15 1084.5,1544.45 1086.24,1542.7 1087.96,1540.91 1089.7,1539.09 1091.48,1537.25 1093.3,1535.4 1095.18,1533.47 1097.1,1531.44 1099.05,1529.36 1101.02,1527.29 1102.99,1525.31 1104.95,1523.45 1106.9,1521.8 1108.83,1520.32 1110.76,1518.96 1112.69,1517.72 1114.61,1516.59 1116.54,1515.58 1118.47,1514.68 1120.4,1513.9 1122.33,1513.25 1124.25,1512.73 1126.16,1512.34 1128.09,1512.05 1130.03,1511.84 1132,1511.7 1134,1511.6 1135.77,1511.55 1137.55,1511.54 1139.34,1511.57 1141.14,1511.67 1142.98,1511.83 1144.84,1512.07 1146.75,1512.39 1148.7,1512.8 1150.48,1513.26 1152.31,1513.82 1154.17,1514.46 1156.05,1515.15 1157.96,1515.89 1159.88,1516.67 1161.8,1517.45 1163.71,1518.24 1165.6,1519 1167.49,1519.77 1169.37,1520.56 1171.26,1521.37 1173.15,1522.2 1175.05,1523.03 1176.94,1523.86 1178.83,1524.69 1180.71,1525.5 1182.6,1526.3 1184.48,1527.09 1186.36,1527.89 1188.24,1528.69 1190.11,1529.48 1191.99,1530.26 1193.86,1531.02 1195.74,1531.75 1197.62,1532.45 1199.5,1533.1 1201.39,1533.71 1203.27,1534.28 1205.16,1534.81 1207.05,1535.32 1208.95,1535.8 1210.84,1536.27 1212.73,1536.72 1214.61,1537.16 1216.5,1537.6 1218.38,1538.04 1220.26,1538.47 1222.14,1538.9 1224.01,1539.31 1225.89,1539.7 1227.76,1540.07 1229.64,1540.41 1231.52,1540.72 1233.4,1541 1235.25,1541.23 1237.04,1541.43 1238.81,1541.59 1240.58,1541.72 1242.38,1541.84 1244.23,1541.93 1246.17,1542.02 1248.22,1542.11 1250.4,1542.2 1252.22,1542.27 1254.24,1542.33 1256.41,1542.39 1258.68,1542.44 1261,1542.48 1263.31,1542.53 1265.57,1542.56 1267.71,1542.6 1269.68,1542.63 1271.44,1542.65 1272.93,1542.68 1274.1,1542.7" fill="none" stroke="#000" stroke-width="7.3" stroke-linejoin="round"/><polygon points="1404.5,1626.5 1405.7,1626.52 1407.31,1626.64 1409.22,1626.77 1411.35,1626.83 1413.6,1626.74 1415.88,1626.43 1418.1,1625.8 1419.83,1625.1 1421.64,1624.25 1423.52,1623.28 1425.44,1622.18 1427.36,1620.97 1429.28,1619.66 1431.16,1618.25 1432.97,1616.76 1434.7,1615.2 1436.81,1613.05 1438.85,1610.71 1440.82,1608.21 1442.73,1605.57 1444.61,1602.83 1446.46,1599.99 1448.3,1597.1 1450.11,1594.14 1451.87,1591.08 1453.59,1587.92 1455.29,1584.68 1456.99,1581.34 1458.68,1577.91 1460.4,1574.4 1462.14,1570.76 1463.9,1566.98 1465.67,1563.1 1467.43,1559.15 1469.16,1555.18 1470.86,1551.22 1472.5,1547.3 1474.34,1542.81 1476.11,1538.35 1477.84,1533.89 1479.55,1529.39 1481.26,1524.81 1483,1520.1 1484.74,1515.21 1486.47,1510.14 1488.2,1505 1489.95,1499.86 1491.75,1494.79 1493.6,1489.9 1495.25,1485.74 1496.95,1481.51 1498.68,1477.32 1500.44,1473.25 1502.2,1469.39 1503.96,1465.85 1505.7,1462.7 1507.42,1459.98 1509.12,1457.6 1510.81,1455.52 1512.52,1453.68 1514.24,1452.04 1516,1450.53 1517.8,1449.1 1519.65,1447.8 1521.55,1446.68 1523.48,1445.72 1525.43,1444.91 1527.39,1444.21 1529.35,1443.62 1531.3,1443.1 1533.24,1442.69 1535.18,1442.4 1537.12,1442.23 1539.07,1442.15 1541.01,1442.15 1542.96,1442.21 1544.9,1442.3 1546.83,1442.43 1548.74,1442.6 1550.65,1442.83 1552.57,1443.14 1554.5,1443.52 1556.48,1444.01 1558.5,1444.6 1560.32,1445.21 1562.17,1445.91 1564.05,1446.69 1565.96,1447.53 1567.87,1448.43 1569.79,1449.38 1571.7,1450.38 1573.6,1451.4 1575.49,1452.46 1577.38,1453.55 1579.26,1454.69 1581.15,1455.88 1583.04,1457.11 1584.92,1458.41 1586.81,1459.77 1588.7,1461.2 1590.59,1462.7 1592.48,1464.26 1594.36,1465.89 1596.25,1467.58 1598.14,1469.31 1600.03,1471.1 1601.91,1472.93 1603.8,1474.8 1605.69,1476.75 1607.58,1478.81 1609.46,1480.94 1611.35,1483.1 1613.24,1485.26 1615.12,1487.39 1617.01,1489.45 1618.9,1491.4 1620.77,1493.27 1622.62,1495.1 1624.46,1496.88 1626.3,1498.61 1628.16,1500.3 1630.06,1501.92 1632,1503.49 1634,1505 1635.86,1506.28 1637.8,1507.5 1639.8,1508.67 1641.82,1509.8 1643.85,1510.89 1645.86,1511.95 1647.82,1512.98 1649.71,1514 1651.5,1515 1653.67,1516.23 1655.72,1517.36 1657.69,1518.45 1659.6,1519.52 1661.47,1520.6 1663.33,1521.75 1665.2,1523 1667.07,1524.35 1668.9,1525.77 1670.72,1527.25 1672.52,1528.76 1674.31,1530.28 1676.1,1531.8 1677.9,1533.3 1679.71,1534.79 1681.51,1536.3 1683.31,1537.82 1685.11,1539.33 1686.9,1540.82 1688.7,1542.28 1690.5,1543.7 1692.3,1545.11 1694.1,1546.54 1695.9,1547.95 1697.7,1549.32 1699.5,1550.6 1701.3,1551.77 1703.1,1552.8 1704.89,1553.71 1706.67,1554.56 1708.44,1555.31 1710.22,1555.94 1712.01,1556.43 1713.84,1556.76 1715.7,1556.9 1717.61,1556.82 1719.56,1556.54 1721.54,1556.08 1723.53,1555.49 1725.53,1554.83 1727.52,1554.11 1729.5,1553.4 1731.44,1552.61 1733.35,1551.69 1735.25,1550.69 1737.17,1549.67 1739.11,1548.69 1741.12,1547.81 1743.2,1547.1 1744.9,1546.64 1746.68,1546.21 1748.52,1545.82 1750.38,1545.49 1752.25,1545.2 1754.1,1544.99 1755.91,1544.84 1757.65,1544.78 1759.3,1544.8 1761.28,1544.95 1763.16,1545.21 1764.94,1545.6 1766.68,1546.1 1768.4,1546.72 1770.13,1547.46 1771.9,1548.3 1773.69,1549.27 1775.47,1550.39 1777.24,1551.62 1779.02,1552.95 1780.81,1554.37 1782.64,1555.86 1784.5,1557.4 1786.41,1559.04 1788.36,1560.8 1790.33,1562.66 1792.32,1564.56 1794.32,1566.46 1796.32,1568.32 1798.3,1570.1 1800.27,1571.79 1802.25,1573.42 1804.22,1575.01 1806.19,1576.6 1808.16,1578.19 1810.13,1579.82 1812.1,1581.5 1814.08,1583.25 1816.09,1585.04 1818.09,1586.87 1820.09,1588.71 1822.05,1590.55 1823.96,1592.35 1825.8,1594.1 1827.83,1596.13 1829.76,1598.19 1831.62,1600.21 1833.47,1602.15 1835.35,1603.96 1837.3,1605.6 1839.04,1606.85 1840.82,1607.99 1842.62,1609.03 1844.44,1609.99 1846.26,1610.87 1848.09,1611.71 1849.9,1612.5 1851.82,1613.26 1853.89,1613.97 1856,1614.63 1858.04,1615.22 1859.89,1615.73 1861.45,1616.16 1862.6,1616.5 1862.6,1673.7 1861.45,1673.36 1859.89,1672.93 1858.04,1672.42 1856,1671.83 1853.89,1671.17 1851.82,1670.46 1849.9,1669.7 1848.09,1668.91 1846.26,1668.07 1844.44,1667.19 1842.62,1666.23 1840.82,1665.19 1839.04,1664.05 1837.3,1662.8 1835.35,1661.16 1833.47,1659.35 1831.62,1657.41 1829.76,1655.39 1827.83,1653.33 1825.8,1651.3 1823.96,1649.55 1822.05,1647.75 1820.09,1645.91 1818.09,1644.07 1816.09,1642.24 1814.08,1640.45 1812.1,1638.7 1810.13,1637.02 1808.16,1635.39 1806.19,1633.8 1804.22,1632.21 1802.25,1630.62 1800.27,1628.99 1798.3,1627.3 1796.32,1625.52 1794.32,1623.66 1792.32,1621.76 1790.33,1619.86 1788.36,1618 1786.41,1616.24 1784.5,1614.6 1782.64,1613.06 1780.81,1611.57 1779.02,1610.15 1777.24,1608.82 1775.47,1607.59 1773.69,1606.47 1771.9,1605.5 1770.13,1604.66 1768.4,1603.92 1766.68,1603.3 1764.94,1602.8 1763.16,1602.41 1761.28,1602.15 1759.3,1602 1757.65,1601.98 1755.91,1602.04 1754.1,1602.19 1752.25,1602.4 1750.38,1602.69 1748.52,1603.02 1746.68,1603.41 1744.9,1603.84 1743.2,1604.3 1741.12,1605.01 1739.11,1605.89 1737.17,1606.87 1735.25,1607.89 1733.35,1608.89 1731.44,1609.81 1729.5,1610.6 1727.52,1611.31 1725.53,1612.03 1723.53,1612.69 1721.54,1613.28 1719.56,1613.74 1717.61,1614.02 1715.7,1614.1 1713.84,1613.96 1712.01,1613.63 1710.22,1613.14 1708.44,1612.51 1706.67,1611.76 1704.89,1610.91 1703.1,1610 1701.3,1608.97 1699.5,1607.8 1697.7,1606.52 1695.9,1605.15 1694.1,1603.74 1692.3,1602.31 1690.5,1600.9 1688.7,1599.48 1686.9,1598.02 1685.11,1596.53 1683.31,1595.02 1681.51,1593.5 1679.71,1591.99 1677.9,1590.5 1676.1,1589 1674.31,1587.48 1672.52,1585.96 1670.72,1584.45 1668.9,1582.97 1667.07,1581.55 1665.2,1580.2 1663.33,1578.95 1661.47,1577.8 1659.6,1576.72 1657.69,1575.65 1655.72,1574.56 1653.67,1573.43 1651.5,1572.2 1649.71,1571.2 1647.82,1570.18 1645.86,1569.15 1643.85,1568.09 1641.82,1567 1639.8,1565.87 1637.8,1564.7 1635.86,1563.48 1634,1562.2 1632,1560.69 1630.06,1559.12 1628.16,1557.5 1626.3,1555.81 1624.46,1554.08 1622.62,1552.3 1620.77,1550.47 1618.9,1548.6 1617.01,1546.65 1615.12,1544.59 1613.24,1542.46 1611.35,1540.3 1609.46,1538.14 1607.58,1536.01 1605.69,1533.95 1603.8,1532 1601.91,1530.13 1600.03,1528.3 1598.14,1526.51 1596.25,1524.78 1594.36,1523.09 1592.48,1521.46 1590.59,1519.9 1588.7,1518.4 1586.81,1516.97 1584.92,1515.61 1583.04,1514.31 1581.15,1513.07 1579.26,1511.89 1577.38,1510.75 1575.49,1509.66 1573.6,1508.6 1571.7,1507.58 1569.79,1506.58 1567.87,1505.63 1565.96,1504.73 1564.05,1503.89 1562.17,1503.11 1560.32,1502.41 1558.5,1501.8 1556.48,1501.21 1554.5,1500.72 1552.57,1500.34 1550.65,1500.03 1548.74,1499.8 1546.83,1499.63 1544.9,1499.5 1542.96,1499.41 1541.01,1499.35 1539.07,1499.35 1537.12,1499.43 1535.18,1499.6 1533.24,1499.89 1531.3,1500.3 1529.35,1500.82 1527.39,1501.41 1525.43,1502.11 1523.48,1502.92 1521.55,1503.88 1519.65,1505 1517.8,1506.3 1516,1507.73 1514.24,1509.24 1512.52,1510.88 1510.81,1512.72 1509.12,1514.8 1507.42,1517.18 1505.7,1519.9 1503.96,1523.05 1502.2,1526.59 1500.44,1530.45 1498.68,1534.52 1496.95,1538.71 1495.25,1542.94 1493.6,1547.1 1491.75,1551.99 1489.95,1557.06 1488.2,1562.2 1486.47,1567.34 1484.74,1572.41 1483,1577.3 1481.26,1582.01 1479.55,1586.59 1477.84,1591.09 1476.11,1595.55 1474.34,1600.01 1472.5,1604.5 1470.86,1608.42 1469.16,1612.38 1467.43,1616.35 1465.67,1620.3 1463.9,1624.18 1462.14,1627.96 1460.4,1631.6 1458.68,1635.11 1456.99,1638.54 1455.29,1641.88 1453.59,1645.12 1451.87,1648.28 1450.11,1651.34 1448.3,1654.3 1446.46,1657.19 1444.61,1660.03 1442.73,1662.77 1440.82,1665.41 1438.85,1667.91 1436.81,1670.25 1434.7,1672.4 1432.97,1673.96 1431.16,1675.45 1429.28,1676.86 1427.36,1678.17 1425.44,1679.38 1423.52,1680.48 1421.64,1681.45 1419.83,1682.3 1418.1,1683 1415.88,1683.63 1413.6,1683.94 1411.35,1684.03 1409.22,1683.97 1407.31,1683.84 1405.7,1683.72 1404.5,1683.7" fill="#D4D4D4"/><polyline points="1404.5,1655.1 1405.7,1655.12 1407.31,1655.24 1409.22,1655.37 1411.35,1655.43 1413.6,1655.34 1415.88,1655.03 1418.1,1654.4 1419.83,1653.7 1421.64,1652.85 1423.52,1651.88 1425.44,1650.78 1427.36,1649.57 1429.28,1648.26 1431.16,1646.85 1432.97,1645.36 1434.7,1643.8 1436.81,1641.65 1438.85,1639.31 1440.82,1636.81 1442.73,1634.17 1444.61,1631.43 1446.46,1628.59 1448.3,1625.7 1450.11,1622.74 1451.87,1619.68 1453.59,1616.52 1455.29,1613.28 1456.99,1609.94 1458.68,1606.51 1460.4,1603 1462.14,1599.36 1463.9,1595.58 1465.67,1591.7 1467.43,1587.75 1469.16,1583.78 1470.86,1579.82 1472.5,1575.9 1474.34,1571.41 1476.11,1566.95 1477.84,1562.49 1479.55,1557.99 1481.26,1553.41 1483,1548.7 1484.74,1543.81 1486.47,1538.74 1488.2,1533.6 1489.95,1528.46 1491.75,1523.39 1493.6,1518.5 1495.25,1514.34 1496.95,1510.11 1498.68,1505.92 1500.44,1501.85 1502.2,1497.99 1503.96,1494.45 1505.7,1491.3 1507.42,1488.58 1509.12,1486.2 1510.81,1484.12 1512.52,1482.28 1514.24,1480.64 1516,1479.13 1517.8,1477.7 1519.65,1476.4 1521.55,1475.28 1523.48,1474.32 1525.43,1473.51 1527.39,1472.81 1529.35,1472.22 1531.3,1471.7 1533.24,1471.29 1535.18,1471 1537.12,1470.83 1539.07,1470.75 1541.01,1470.75 1542.96,1470.81 1544.9,1470.9 1546.83,1471.03 1548.74,1471.2 1550.65,1471.43 1552.57,1471.74 1554.5,1472.12 1556.48,1472.61 1558.5,1473.2 1560.32,1473.81 1562.17,1474.51 1564.05,1475.29 1565.96,1476.13 1567.87,1477.03 1569.79,1477.98 1571.7,1478.98 1573.6,1480 1575.49,1481.06 1577.38,1482.15 1579.26,1483.29 1581.15,1484.47 1583.04,1485.71 1584.92,1487.01 1586.81,1488.37 1588.7,1489.8 1590.59,1491.3 1592.48,1492.86 1594.36,1494.49 1596.25,1496.18 1598.14,1497.91 1600.03,1499.7 1601.91,1501.53 1603.8,1503.4 1605.69,1505.35 1607.58,1507.41 1609.46,1509.54 1611.35,1511.7 1613.24,1513.86 1615.12,1515.99 1617.01,1518.05 1618.9,1520 1620.77,1521.87 1622.62,1523.7 1624.46,1525.48 1626.3,1527.21 1628.16,1528.9 1630.06,1530.52 1632,1532.09 1634,1533.6 1635.86,1534.88 1637.8,1536.1 1639.8,1537.27 1641.82,1538.4 1643.85,1539.49 1645.86,1540.55 1647.82,1541.58 1649.71,1542.6 1651.5,1543.6 1653.67,1544.83 1655.72,1545.96 1657.69,1547.05 1659.6,1548.12 1661.47,1549.2 1663.33,1550.35 1665.2,1551.6 1667.07,1552.95 1668.9,1554.37 1670.72,1555.85 1672.52,1557.36 1674.31,1558.88 1676.1,1560.4 1677.9,1561.9 1679.71,1563.39 1681.51,1564.9 1683.31,1566.42 1685.11,1567.93 1686.9,1569.42 1688.7,1570.88 1690.5,1572.3 1692.3,1573.71 1694.1,1575.14 1695.9,1576.55 1697.7,1577.92 1699.5,1579.2 1701.3,1580.37 1703.1,1581.4 1704.89,1582.31 1706.67,1583.16 1708.44,1583.91 1710.22,1584.54 1712.01,1585.03 1713.84,1585.36 1715.7,1585.5 1717.61,1585.42 1719.56,1585.14 1721.54,1584.68 1723.53,1584.09 1725.53,1583.43 1727.52,1582.71 1729.5,1582 1731.44,1581.21 1733.35,1580.29 1735.25,1579.29 1737.17,1578.27 1739.11,1577.29 1741.12,1576.41 1743.2,1575.7 1744.9,1575.24 1746.68,1574.81 1748.52,1574.42 1750.38,1574.09 1752.25,1573.8 1754.1,1573.59 1755.91,1573.44 1757.65,1573.38 1759.3,1573.4 1761.28,1573.55 1763.16,1573.81 1764.94,1574.2 1766.68,1574.7 1768.4,1575.32 1770.13,1576.06 1771.9,1576.9 1773.69,1577.87 1775.47,1578.99 1777.24,1580.22 1779.02,1581.55 1780.81,1582.97 1782.64,1584.46 1784.5,1586 1786.41,1587.64 1788.36,1589.4 1790.33,1591.26 1792.32,1593.16 1794.32,1595.06 1796.32,1596.92 1798.3,1598.7 1800.27,1600.39 1802.25,1602.02 1804.22,1603.61 1806.19,1605.2 1808.16,1606.79 1810.13,1608.42 1812.1,1610.1 1814.08,1611.85 1816.09,1613.64 1818.09,1615.47 1820.09,1617.31 1822.05,1619.15 1823.96,1620.95 1825.8,1622.7 1827.83,1624.73 1829.76,1626.79 1831.62,1628.81 1833.47,1630.75 1835.35,1632.56 1837.3,1634.2 1839.04,1635.45 1840.82,1636.59 1842.62,1637.63 1844.44,1638.59 1846.26,1639.47 1848.09,1640.31 1849.9,1641.1 1851.82,1641.86 1853.89,1642.57 1856,1643.23 1858.04,1643.82 1859.89,1644.33 1861.45,1644.76 1862.6,1645.1" fill="none" stroke="#000" stroke-width="7.8" stroke-linejoin="round"/><polygon points="2017.3,1547.2 2018.44,1547.54 2019.92,1547.99 2021.67,1548.53 2023.64,1549.13 2025.75,1549.76 2027.96,1550.39 2030.19,1551 2032.39,1551.54 2034.5,1552 2036.36,1552.38 2038.28,1552.77 2040.23,1553.15 2042.21,1553.52 2044.2,1553.86 2046.2,1554.14 2048.19,1554.37 2050.16,1554.51 2052.1,1554.56 2054,1554.5 2055.88,1554.33 2057.75,1554.07 2059.62,1553.73 2061.47,1553.31 2063.31,1552.82 2065.12,1552.27 2066.9,1551.66 2068.64,1551.01 2070.34,1550.32 2072,1549.6 2074,1548.64 2075.92,1547.61 2077.79,1546.5 2079.61,1545.31 2081.38,1544.05 2083.14,1542.71 2084.87,1541.29 2086.6,1539.8 2088.55,1538.03 2090.46,1536.19 2092.32,1534.27 2094.17,1532.22 2096.01,1530.03 2097.85,1527.67 2099.7,1525.1 2101.58,1522.31 2103.47,1519.32 2105.36,1516.15 2107.25,1512.84 2109.11,1509.41 2110.93,1505.89 2112.7,1502.3 2114.69,1498.08 2116.61,1493.79 2118.49,1489.37 2120.35,1484.74 2122.21,1479.84 2124.1,1474.6 2126.03,1468.86 2127.99,1462.64 2129.96,1456.16 2131.9,1449.6 2133.79,1443.18 2135.6,1437.1 2137.65,1430.22 2139.6,1423.55 2141.5,1417.07 2143.38,1410.74 2145.3,1404.5 2147.28,1398.17 2149.29,1391.76 2151.29,1385.58 2153.24,1379.93 2155.1,1375.1 2156.86,1371.19 2158.54,1367.99 2160.16,1365.37 2161.74,1363.19 2163.3,1361.3 2165.19,1359.42 2167.01,1358.18 2168.8,1357.48 2170.6,1357.2 2172.4,1357.28 2174.19,1357.78 2176.01,1358.82 2177.9,1360.5 2179.46,1362.3 2181.04,1364.45 2182.66,1367.01 2184.34,1370.01 2186.1,1373.5 2187.96,1377.64 2189.9,1382.4 2191.9,1387.54 2193.91,1392.82 2195.9,1398 2197.86,1403.13 2199.82,1408.36 2201.79,1413.64 2203.75,1418.87 2205.7,1424 2207.62,1428.97 2209.5,1433.83 2211.4,1438.66 2213.35,1443.52 2215.4,1448.5 2217.19,1452.68 2219.04,1456.82 2220.94,1461.01 2222.88,1465.31 2224.87,1469.82 2226.9,1474.6 2228.7,1479.07 2230.58,1483.91 2232.5,1488.95 2234.43,1494.02 2236.34,1498.96 2238.21,1503.61 2240,1507.8 2241.99,1512.02 2243.9,1515.71 2245.76,1519.07 2247.6,1522.32 2249.44,1525.66 2251.3,1529.3 2253.18,1533.27 2255.07,1537.4 2256.95,1541.63 2258.83,1545.87 2260.72,1550.06 2262.6,1554.1 2264.48,1558.12 2266.37,1562.21 2268.25,1566.24 2270.13,1570.09 2272.02,1573.61 2273.9,1576.7 2275.82,1579.34 2277.79,1581.64 2279.76,1583.62 2281.69,1585.32 2283.51,1586.77 2285.2,1588 2287.36,1589.32 2289.22,1590 2291.04,1590.26 2293.1,1590.3 2294.63,1590.27 2296.2,1590.16 2297.84,1589.92 2299.56,1589.51 2301.38,1588.89 2303.3,1588 2305.07,1587 2306.94,1585.78 2308.9,1584.4 2310.9,1582.88 2312.92,1581.27 2314.93,1579.59 2316.9,1577.9 2318.85,1576.09 2320.83,1574.09 2322.81,1571.99 2324.77,1569.88 2326.71,1567.84 2328.59,1565.95 2330.4,1564.3 2332.46,1562.63 2334.5,1561.12 2336.47,1559.78 2338.35,1558.63 2340.1,1557.66 2341.7,1556.9 2343.66,1556.17 2345.24,1555.91 2346.75,1556.01 2348.5,1556.4 2350.1,1556.83 2351.77,1557.4 2353.54,1558.2 2355.44,1559.34 2357.5,1560.9 2359.09,1562.35 2360.79,1564.06 2362.56,1565.98 2364.39,1568.04 2366.25,1570.19 2368.13,1572.36 2370,1574.5 2371.87,1576.67 2373.75,1578.95 2375.65,1581.3 2377.58,1583.65 2379.53,1585.97 2381.5,1588.2 2383.5,1590.3 2385.29,1592.05 2387.12,1593.77 2388.97,1595.45 2390.84,1597.06 2392.72,1598.61 2394.57,1600.07 2396.41,1601.44 2398.2,1602.7 2400.24,1604.01 2402.3,1605.2 2404.35,1606.27 2406.35,1607.24 2408.28,1608.09 2410.11,1608.85 2411.8,1609.5 2413.86,1610.24 2415.62,1610.76 2417.26,1611.09 2418.93,1611.23 2420.8,1611.2 2422.55,1611.05 2424.4,1610.79 2426.31,1610.4 2428.25,1609.88 2430.19,1609.21 2432.1,1608.4 2433.98,1607.41 2435.87,1606.23 2437.75,1604.91 2439.63,1603.49 2441.52,1602.01 2443.4,1600.5 2445.28,1598.95 2447.17,1597.31 2449.05,1595.61 2450.93,1593.87 2452.82,1592.09 2454.7,1590.3 2456.6,1588.49 2458.51,1586.66 2460.42,1584.79 2462.31,1582.89 2464.18,1580.96 2466,1579 2467.88,1576.85 2469.86,1574.49 2471.81,1572.09 2473.6,1569.86 2475.1,1567.96 2476.2,1566.6 2476.2,1604.6 2475.1,1605.96 2473.6,1607.86 2471.81,1610.09 2469.86,1612.49 2467.88,1614.85 2466,1617 2464.18,1618.96 2462.31,1620.89 2460.42,1622.79 2458.51,1624.66 2456.6,1626.49 2454.7,1628.3 2452.82,1630.09 2450.93,1631.87 2449.05,1633.61 2447.17,1635.31 2445.28,1636.95 2443.4,1638.5 2441.52,1640.01 2439.63,1641.49 2437.75,1642.91 2435.87,1644.23 2433.98,1645.41 2432.1,1646.4 2430.19,1647.21 2428.25,1647.88 2426.31,1648.4 2424.4,1648.79 2422.55,1649.05 2420.8,1649.2 2418.93,1649.23 2417.26,1649.09 2415.62,1648.76 2413.86,1648.24 2411.8,1647.5 2410.11,1646.85 2408.28,1646.09 2406.35,1645.24 2404.35,1644.27 2402.3,1643.2 2400.24,1642.01 2398.2,1640.7 2396.41,1639.44 2394.57,1638.07 2392.72,1636.61 2390.84,1635.06 2388.97,1633.45 2387.12,1631.77 2385.29,1630.05 2383.5,1628.3 2381.5,1626.2 2379.53,1623.97 2377.58,1621.65 2375.65,1619.3 2373.75,1616.95 2371.87,1614.67 2370,1612.5 2368.13,1610.36 2366.25,1608.19 2364.39,1606.04 2362.56,1603.98 2360.79,1602.06 2359.09,1600.35 2357.5,1598.9 2355.44,1597.34 2353.54,1596.2 2351.77,1595.4 2350.1,1594.83 2348.5,1594.4 2346.75,1594.01 2345.24,1593.91 2343.66,1594.17 2341.7,1594.9 2340.1,1595.66 2338.35,1596.63 2336.47,1597.78 2334.5,1599.12 2332.46,1600.63 2330.4,1602.3 2328.59,1603.95 2326.71,1605.84 2324.77,1607.88 2322.81,1609.99 2320.83,1612.09 2318.85,1614.09 2316.9,1615.9 2314.93,1617.59 2312.92,1619.27 2310.9,1620.88 2308.9,1622.4 2306.94,1623.78 2305.07,1625 2303.3,1626 2301.38,1626.89 2299.56,1627.51 2297.84,1627.92 2296.2,1628.16 2294.63,1628.27 2293.1,1628.3 2291.04,1628.26 2289.22,1628 2287.36,1627.32 2285.2,1626 2283.51,1624.77 2281.69,1623.32 2279.76,1621.62 2277.79,1619.64 2275.82,1617.34 2273.9,1614.7 2272.02,1611.61 2270.13,1608.09 2268.25,1604.24 2266.37,1600.21 2264.48,1596.12 2262.6,1592.1 2260.72,1588.06 2258.83,1583.87 2256.95,1579.63 2255.07,1575.4 2253.18,1571.27 2251.3,1567.3 2249.44,1563.66 2247.6,1560.32 2245.76,1557.07 2243.9,1553.71 2241.99,1550.02 2240,1545.8 2238.21,1541.61 2236.34,1536.96 2234.43,1532.02 2232.5,1526.95 2230.58,1521.91 2228.7,1517.07 2226.9,1512.6 2224.87,1507.82 2222.88,1503.31 2220.94,1499.01 2219.04,1494.82 2217.19,1490.68 2215.4,1486.5 2213.35,1481.52 2211.4,1476.66 2209.5,1471.83 2207.62,1466.97 2205.7,1462 2203.75,1456.87 2201.79,1451.64 2199.82,1446.36 2197.86,1441.13 2195.9,1436 2193.91,1430.82 2191.9,1425.54 2189.9,1420.4 2187.96,1415.64 2186.1,1411.5 2184.34,1408.01 2182.66,1405.01 2181.04,1402.45 2179.46,1400.3 2177.9,1398.5 2176.01,1396.82 2174.19,1395.78 2172.4,1395.28 2170.6,1395.2 2168.8,1395.48 2167.01,1396.18 2165.19,1397.42 2163.3,1399.3 2161.74,1401.19 2160.16,1403.37 2158.54,1405.99 2156.86,1409.19 2155.1,1413.1 2153.24,1417.93 2151.29,1423.58 2149.29,1429.76 2147.28,1436.17 2145.3,1442.5 2143.38,1448.74 2141.5,1455.07 2139.6,1461.55 2137.65,1468.22 2135.6,1475.1 2133.79,1481.18 2131.9,1487.6 2129.96,1494.16 2127.99,1500.64 2126.03,1506.86 2124.1,1512.6 2122.21,1517.84 2120.35,1522.74 2118.49,1527.37 2116.61,1531.79 2114.69,1536.08 2112.7,1540.3 2110.93,1543.89 2109.11,1547.41 2107.25,1550.84 2105.36,1554.15 2103.47,1557.32 2101.58,1560.31 2099.7,1563.1 2097.85,1565.67 2096.01,1568.03 2094.17,1570.22 2092.32,1572.27 2090.46,1574.19 2088.55,1576.03 2086.6,1577.8 2084.87,1579.29 2083.14,1580.71 2081.38,1582.05 2079.61,1583.31 2077.79,1584.5 2075.92,1585.61 2074,1586.64 2072,1587.6 2070.34,1588.32 2068.64,1589.01 2066.9,1589.66 2065.12,1590.27 2063.31,1590.82 2061.47,1591.31 2059.62,1591.73 2057.75,1592.07 2055.88,1592.33 2054,1592.5 2052.1,1592.56 2050.16,1592.51 2048.19,1592.37 2046.2,1592.14 2044.2,1591.86 2042.21,1591.52 2040.23,1591.15 2038.28,1590.77 2036.36,1590.38 2034.5,1590 2032.39,1589.54 2030.19,1589 2027.96,1588.39 2025.75,1587.76 2023.64,1587.13 2021.67,1586.53 2019.92,1585.99 2018.44,1585.54 2017.3,1585.2" fill="#D4D4D4"/><polyline points="2017.3,1566.2 2018.44,1566.54 2019.92,1566.99 2021.67,1567.53 2023.64,1568.13 2025.75,1568.76 2027.96,1569.39 2030.19,1570 2032.39,1570.54 2034.5,1571 2036.36,1571.38 2038.28,1571.77 2040.23,1572.15 2042.21,1572.52 2044.2,1572.86 2046.2,1573.14 2048.19,1573.37 2050.16,1573.51 2052.1,1573.56 2054,1573.5 2055.88,1573.33 2057.75,1573.07 2059.62,1572.73 2061.47,1572.31 2063.31,1571.82 2065.12,1571.27 2066.9,1570.66 2068.64,1570.01 2070.34,1569.32 2072,1568.6 2074,1567.64 2075.92,1566.61 2077.79,1565.5 2079.61,1564.31 2081.38,1563.05 2083.14,1561.71 2084.87,1560.29 2086.6,1558.8 2088.55,1557.03 2090.46,1555.19 2092.32,1553.27 2094.17,1551.22 2096.01,1549.03 2097.85,1546.67 2099.7,1544.1 2101.58,1541.31 2103.47,1538.32 2105.36,1535.15 2107.25,1531.84 2109.11,1528.41 2110.93,1524.89 2112.7,1521.3 2114.69,1517.08 2116.61,1512.79 2118.49,1508.37 2120.35,1503.74 2122.21,1498.84 2124.1,1493.6 2126.03,1487.86 2127.99,1481.64 2129.96,1475.16 2131.9,1468.6 2133.79,1462.18 2135.6,1456.1 2137.65,1449.22 2139.6,1442.55 2141.5,1436.07 2143.38,1429.74 2145.3,1423.5 2147.28,1417.17 2149.29,1410.76 2151.29,1404.58 2153.24,1398.93 2155.1,1394.1 2156.86,1390.19 2158.54,1386.99 2160.16,1384.37 2161.74,1382.19 2163.3,1380.3 2165.19,1378.42 2167.01,1377.18 2168.8,1376.48 2170.6,1376.2 2172.4,1376.28 2174.19,1376.78 2176.01,1377.82 2177.9,1379.5 2179.46,1381.3 2181.04,1383.45 2182.66,1386.01 2184.34,1389.01 2186.1,1392.5 2187.96,1396.64 2189.9,1401.4 2191.9,1406.54 2193.91,1411.82 2195.9,1417 2197.86,1422.13 2199.82,1427.36 2201.79,1432.64 2203.75,1437.87 2205.7,1443 2207.62,1447.97 2209.5,1452.83 2211.4,1457.66 2213.35,1462.52 2215.4,1467.5 2217.19,1471.68 2219.04,1475.82 2220.94,1480.01 2222.88,1484.31 2224.87,1488.82 2226.9,1493.6 2228.7,1498.07 2230.58,1502.91 2232.5,1507.95 2234.43,1513.02 2236.34,1517.96 2238.21,1522.61 2240,1526.8 2241.99,1531.02 2243.9,1534.71 2245.76,1538.07 2247.6,1541.32 2249.44,1544.66 2251.3,1548.3 2253.18,1552.27 2255.07,1556.4 2256.95,1560.63 2258.83,1564.87 2260.72,1569.06 2262.6,1573.1 2264.48,1577.12 2266.37,1581.21 2268.25,1585.24 2270.13,1589.09 2272.02,1592.61 2273.9,1595.7 2275.82,1598.34 2277.79,1600.64 2279.76,1602.62 2281.69,1604.32 2283.51,1605.77 2285.2,1607 2287.36,1608.32 2289.22,1609 2291.04,1609.26 2293.1,1609.3 2294.63,1609.27 2296.2,1609.16 2297.84,1608.92 2299.56,1608.51 2301.38,1607.89 2303.3,1607 2305.07,1606 2306.94,1604.78 2308.9,1603.4 2310.9,1601.88 2312.92,1600.27 2314.93,1598.59 2316.9,1596.9 2318.85,1595.09 2320.83,1593.09 2322.81,1590.99 2324.77,1588.88 2326.71,1586.84 2328.59,1584.95 2330.4,1583.3 2332.46,1581.63 2334.5,1580.12 2336.47,1578.78 2338.35,1577.63 2340.1,1576.66 2341.7,1575.9 2343.66,1575.17 2345.24,1574.91 2346.75,1575.01 2348.5,1575.4 2350.1,1575.83 2351.77,1576.4 2353.54,1577.2 2355.44,1578.34 2357.5,1579.9 2359.09,1581.35 2360.79,1583.06 2362.56,1584.98 2364.39,1587.04 2366.25,1589.19 2368.13,1591.36 2370,1593.5 2371.87,1595.67 2373.75,1597.95 2375.65,1600.3 2377.58,1602.65 2379.53,1604.97 2381.5,1607.2 2383.5,1609.3 2385.29,1611.05 2387.12,1612.77 2388.97,1614.45 2390.84,1616.06 2392.72,1617.61 2394.57,1619.07 2396.41,1620.44 2398.2,1621.7 2400.24,1623.01 2402.3,1624.2 2404.35,1625.27 2406.35,1626.24 2408.28,1627.09 2410.11,1627.85 2411.8,1628.5 2413.86,1629.24 2415.62,1629.76 2417.26,1630.09 2418.93,1630.23 2420.8,1630.2 2422.55,1630.05 2424.4,1629.79 2426.31,1629.4 2428.25,1628.88 2430.19,1628.21 2432.1,1627.4 2433.98,1626.41 2435.87,1625.23 2437.75,1623.91 2439.63,1622.49 2441.52,1621.01 2443.4,1619.5 2445.28,1617.95 2447.17,1616.31 2449.05,1614.61 2450.93,1612.87 2452.82,1611.09 2454.7,1609.3 2456.6,1607.49 2458.51,1605.66 2460.42,1603.79 2462.31,1601.89 2464.18,1599.96 2466,1598 2467.88,1595.85 2469.86,1593.49 2471.81,1591.09 2473.6,1588.86 2475.1,1586.96 2476.2,1585.6" fill="none" stroke="#000" stroke-width="8.2" stroke-linejoin="round"/><rect x="181.3" y="1341.2" width="6.7" height="395.7" fill="#000"/><rect x="181.3" y="1341.2" width="13.8" height="6.6" fill="#000"/><rect x="181.3" y="1730.3" width="486.7" height="6.6" fill="#000"/><rect x="411.3" y="1718.8" width="6.6" height="18.1" fill="#000"/><rect x="661.3" y="1718.8" width="6.6" height="18.1" fill="#000"/><rect x="177.3" y="1718.5" width="5" height="16.4" fill="#000"/><rect x="781.7" y="1332" width="7.1" height="402.3" fill="#000"/><rect x="781.7" y="1332" width="14.4" height="6.6" fill="#000"/><rect x="781.7" y="1728" width="495.3" height="6.3" fill="#000"/><rect x="942" y="1716.5" width="6.6" height="17.8" fill="#000"/><rect x="1270.3" y="1716.5" width="6.6" height="17.8" fill="#000"/><rect x="778" y="1716" width="4.7" height="16.3" fill="#000"/><rect x="1397.1" y="1329.3" width="7.5" height="403.9" fill="#000"/><rect x="1397.1" y="1329.3" width="13.8" height="6.6" fill="#000"/><rect x="1397.1" y="1726.3" width="469" height="6.9" fill="#000"/><rect x="1604.3" y="1714.8" width="6.6" height="18.4" fill="#000"/><rect x="1859.3" y="1714.8" width="6.6" height="18.4" fill="#000"/><rect x="1393.7" y="1715.1" width="4.4" height="16.1" fill="#000"/><rect x="2010.1" y="1327.1" width="7" height="404" fill="#000"/><rect x="2010.1" y="1327.1" width="13.4" height="6.6" fill="#000"/><rect x="2010.1" y="1724.3" width="469.1" height="6.8" fill="#000"/><rect x="2220" y="1712.8" width="6.6" height="18.3" fill="#000"/><rect x="2472.4" y="1712.8" width="6.6" height="18.3" fill="#000"/><rect x="2006.2" y="1713.3" width="4.9" height="15.8" fill="#000"/><text transform="matrix(0.54 0 0 0.54 8.06 50)" font-size="100" fill="#000">A</text><text transform="matrix(0.53 0 0 0.51 67.71 173.4)" font-size="100" fill="#000">Raw data</text><text transform="matrix(0.45 0 0 0.41 405.2 131)" font-size="100" fill="#000">Filtering</text><text transform="matrix(0.44 0 0 0.43 345.93 224.74)" font-size="100" fill="#000">(250-7500Hz)</text><text transform="matrix(0.53 0 0 0.52 729.12 178.3)" font-size="100" fill="#000">Filtered data</text><text transform="matrix(0.44 0 0 0.42 1074.31 125)" font-size="100" fill="#000">Spikes detecting</text><text transform="matrix(0.44 0 0 0.42 1123 230)" font-size="100" fill="#000">thresholding</text><text transform="matrix(0.53 0 0 0.52 1503.79 149.4)" font-size="100" fill="#000">Multi-unit</text><text transform="matrix(0.53 0 0 0.52 1476.65 212.3)" font-size="100" fill="#000">spike trains</text><text transform="matrix(0.44 0 0 0.43 1322.61 377.9)" font-size="100" fill="#000">Spike sorting</text><text transform="matrix(0.53 0 0 0.51 1488.58 529.6)" font-size="100" fill="#000">Single-unit</text><text transform="matrix(0.53 0 0 0.51 1476.65 593.4)" font-size="100" fill="#000">spike trains</text><text transform="matrix(0.52 0 0 0.54 9.28 653)" font-size="100" fill="#000">B</text><text transform="matrix(0.5 0 0 0.54 299.47 724.8)" font-size="100" fill="#000">Rat 1</text><text transform="matrix(0.53 0 0 0.53 914.32 725.2)" font-size="100" fill="#000">Rat 2</text><text transform="matrix(0.53 0 0 0.52 1532.22 721)" font-size="100" fill="#000">Rat 3</text><text transform="matrix(0.53 0 0 0.5 2155.62 718)" font-size="100" fill="#000">Rat 4</text><text transform="matrix(0.53 0 0 0.53 290 1229.03)" font-size="100" fill="#000">Time(s)</text><text transform="matrix(0.54 0 0 0.57 9.2 1277.42)" font-size="100" fill="#000">C</text><text transform="matrix(0.52 0 0 0.46 332.7 1851.9)" font-size="100" fill="#000">Time(s)</text><text transform="matrix(0 -0.53 0.54 0 54.9 1055.09)" font-size="100">Neurons</text><text transform="matrix(0 -0.54 0.5 0 49.9 1751.57)" font-size="100">Mean firing rate</text><text transform="matrix(0 -0.52 0.53 0 114.3 1670.13)" font-size="100">(spikes/s)</text><text transform="matrix(0.47 0 0 0.49 79.92 783.04)" font-size="100" fill="#000">25</text><text transform="matrix(0.47 0 0 0.48 79.92 854.55)" font-size="100" fill="#000">20</text><text transform="matrix(0.45 0 0 0.48 80.48 926.05)" font-size="100" fill="#000">15</text><text transform="matrix(0.46 0 0 0.49 80.43 998.53)" font-size="100" fill="#000">10</text><text transform="matrix(0.42 0 0 0.48 107.35 1070.75)" font-size="100" fill="#000">5</text><text transform="matrix(0.33 0 0 0.5 108.16 1128.5)" font-size="100" fill="#000">1</text><text transform="matrix(0.47 0 0 0.49 95.63 1179)" font-size="100" fill="#000">-1.7</text><text transform="matrix(0.46 0 0 0.49 577.92 1178.93)" font-size="100" fill="#000">1.8</text><text transform="matrix(0.47 0 0 0.5 681.29 807.22)" font-size="100" fill="#000">15</text><text transform="matrix(0.46 0 0 0.49 681.23 919.14)" font-size="100" fill="#000">10</text><text transform="matrix(0.44 0 0 0.47 707.81 1030.97)" font-size="100" fill="#000">5</text><text transform="matrix(0.33 0 0 0.49 708.71 1120.4)" font-size="100" fill="#000">1</text><text transform="matrix(0.39 0 0 0.5 716.69 1179.8)" font-size="100" fill="#000">-1</text><text transform="matrix(0.46 0 0 0.5 1196.88 1179.7)" font-size="100" fill="#000">2</text><text transform="matrix(0.52 0 0 0.53 1273.17 779.47)" font-size="100" fill="#000">20</text><text transform="matrix(0.51 0 0 0.54 1274.04 872.35)" font-size="100" fill="#000">15</text><text transform="matrix(0.53 0 0 0.55 1272.71 965.35)" font-size="100" fill="#000">10</text><text transform="matrix(0.51 0 0 0.55 1302.11 1058.35)" font-size="100" fill="#000">5</text><text transform="matrix(0.39 0 0 0.54 1302.96 1132.6)" font-size="100" fill="#000">1</text><text transform="matrix(0.51 0 0 0.54 1290.11 1190.96)" font-size="100" fill="#000">-1.5</text><text transform="matrix(0.5 0 0 0.54 1814.06 1190.96)" font-size="100" fill="#000">1.8</text><text transform="matrix(0.52 0 0 0.51 1909.37 780.7)" font-size="100" fill="#000">25</text><text transform="matrix(0.52 0 0 0.51 1909.38 855.3)" font-size="100" fill="#000">20</text><text transform="matrix(0.5 0 0 0.53 1910.36 929.88)" font-size="100" fill="#000">15</text><text transform="matrix(0.51 0 0 0.53 1910.31 1003.28)" font-size="100" fill="#000">10</text><text transform="matrix(0.5 0 0 0.53 1939.62 1077.88)" font-size="100" fill="#000">5</text><text transform="matrix(0.37 0 0 0.54 1940.51 1138.7)" font-size="100" fill="#000">1</text><text transform="matrix(0.51 0 0 0.53 1927.02 1192.7)" font-size="100" fill="#000">-1.7</text><text transform="matrix(0.49 0 0 0.54 2467.08 1192.9)" font-size="100" fill="#000">2</text><text transform="matrix(0.51 0 0 0.51 100.42 1363.8)" font-size="100" fill="#000">0.4</text><text transform="matrix(0.5 0 0 0.51 142.73 1752.1)" font-size="100" fill="#000">0</text><text transform="matrix(0.51 0 0 0.52 130.92 1791.8)" font-size="100" fill="#000">-1.7</text><text transform="matrix(0.5 0 0 0.52 629.98 1791.59)" font-size="100" fill="#000">1.8</text><text transform="matrix(0.52 0 0 0.53 699.77 1355.57)" font-size="100" fill="#000">0.5</text><text transform="matrix(0.52 0 0 0.53 742.37 1750.38)" font-size="100" fill="#000">0</text><text transform="matrix(0.44 0 0 0.54 751.63 1791)" font-size="100" fill="#000">-1</text><text transform="matrix(0.49 0 0 0.53 1259.66 1790.4)" font-size="100" fill="#000">2</text><text transform="matrix(0.52 0 0 0.54 1285.96 1353.06)" font-size="100" fill="#000">0.35</text><text transform="matrix(0.52 0 0 0.54 1357.98 1748.96)" font-size="100" fill="#000">0</text><text transform="matrix(0.51 0 0 0.53 1346.59 1789.17)" font-size="100" fill="#000">-1.5</text><text transform="matrix(0.51 0 0 0.53 1827.01 1789.17)" font-size="100" fill="#000">1.8</text><text transform="matrix(0.52 0 0 0.54 1898.46 1350.86)" font-size="100" fill="#000">0.65</text><text transform="matrix(0.51 0 0 0.53 1970.7 1746.87)" font-size="100" fill="#000">0</text><text transform="matrix(0.52 0 0 0.53 1958.99 1787)" font-size="100" fill="#000">-1.7</text><text transform="matrix(0.5 0 0 0.53 2461.34 1787)" font-size="100" fill="#000">2</text></svg></body></html>
